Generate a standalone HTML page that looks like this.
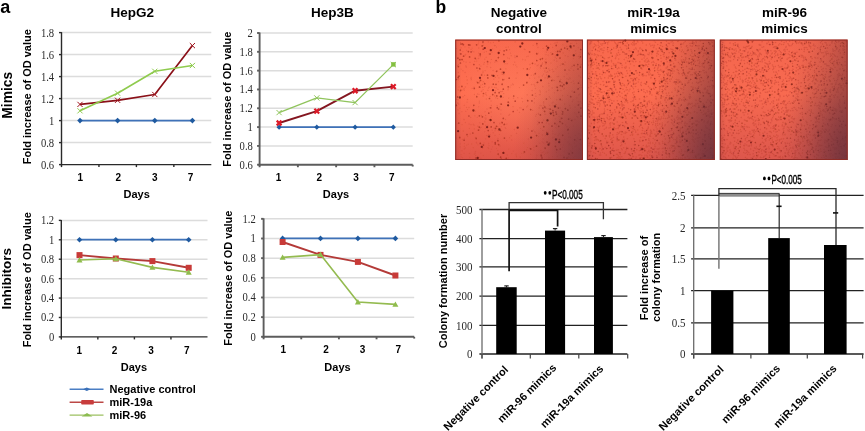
<!DOCTYPE html>
<html><head><meta charset="utf-8"><style>html,body{margin:0;padding:0;background:#fff;width:865px;height:431px;overflow:hidden;position:relative}</style></head>
<body>
<svg width="865" height="431" viewBox="0 0 865 431" style="position:absolute;left:0;top:0;will-change:transform">
<rect width="865" height="431" fill="#fff"/>
<text x="0.3" y="12.9" font-family="Liberation Sans" font-size="18" font-weight="bold" text-anchor="start" fill="#000">a</text>
<text x="435.6" y="12.9" font-family="Liberation Sans" font-size="17.5" font-weight="bold" text-anchor="start" fill="#000">b</text>
<text x="132.3" y="17.4" font-family="Liberation Sans" font-size="13.5" font-weight="bold" text-anchor="middle" fill="#000">HepG2</text>
<text x="332.4" y="17.4" font-family="Liberation Sans" font-size="13.5" font-weight="bold" text-anchor="middle" fill="#000">Hep3B</text>
<text x="11.6" y="95.3" font-family="Liberation Sans" font-size="13.8" font-weight="bold" text-anchor="middle" fill="#000" transform="rotate(-90 11.6 95.3)">Mimics</text>
<text x="10.9" y="278.7" font-family="Liberation Sans" font-size="13.5" font-weight="bold" text-anchor="middle" fill="#000" transform="rotate(-90 10.9 278.7)">Inhibitors</text>
<line x1="61.5" y1="32.599999999999994" x2="211.3" y2="32.599999999999994" stroke="#dcdcdc" stroke-width="1.5"/>
<line x1="61.5" y1="54.59999999999998" x2="211.3" y2="54.59999999999998" stroke="#dcdcdc" stroke-width="1.5"/>
<line x1="61.5" y1="76.6" x2="211.3" y2="76.6" stroke="#dcdcdc" stroke-width="1.5"/>
<line x1="61.5" y1="98.6" x2="211.3" y2="98.6" stroke="#dcdcdc" stroke-width="1.5"/>
<line x1="61.5" y1="120.6" x2="211.3" y2="120.6" stroke="#dcdcdc" stroke-width="1.5"/>
<line x1="61.5" y1="142.6" x2="211.3" y2="142.6" stroke="#dcdcdc" stroke-width="1.5"/>
<line x1="61.5" y1="32.099999999999994" x2="61.5" y2="165.29999999999998" stroke="#2a2a2a" stroke-width="1.4"/>
<line x1="60.8" y1="164.6" x2="211.3" y2="164.6" stroke="#2a2a2a" stroke-width="1.4"/>
<line x1="59.0" y1="32.599999999999994" x2="61.5" y2="32.599999999999994" stroke="#2a2a2a" stroke-width="1.4"/>
<text x="54.2" y="36.599999999999994" font-family="Liberation Serif" font-size="11.8" font-weight="normal" text-anchor="end" fill="#2a2a2a" transform="translate(54.2 0) scale(0.9 1) translate(-54.2 0)">1.8</text>
<line x1="59.0" y1="54.59999999999998" x2="61.5" y2="54.59999999999998" stroke="#2a2a2a" stroke-width="1.4"/>
<text x="54.2" y="58.59999999999998" font-family="Liberation Serif" font-size="11.8" font-weight="normal" text-anchor="end" fill="#2a2a2a" transform="translate(54.2 0) scale(0.9 1) translate(-54.2 0)">1.6</text>
<line x1="59.0" y1="76.6" x2="61.5" y2="76.6" stroke="#2a2a2a" stroke-width="1.4"/>
<text x="54.2" y="80.6" font-family="Liberation Serif" font-size="11.8" font-weight="normal" text-anchor="end" fill="#2a2a2a" transform="translate(54.2 0) scale(0.9 1) translate(-54.2 0)">1.4</text>
<line x1="59.0" y1="98.6" x2="61.5" y2="98.6" stroke="#2a2a2a" stroke-width="1.4"/>
<text x="54.2" y="102.6" font-family="Liberation Serif" font-size="11.8" font-weight="normal" text-anchor="end" fill="#2a2a2a" transform="translate(54.2 0) scale(0.9 1) translate(-54.2 0)">1.2</text>
<line x1="59.0" y1="120.6" x2="61.5" y2="120.6" stroke="#2a2a2a" stroke-width="1.4"/>
<text x="54.2" y="124.6" font-family="Liberation Serif" font-size="11.8" font-weight="normal" text-anchor="end" fill="#2a2a2a" transform="translate(54.2 0) scale(0.9 1) translate(-54.2 0)">1</text>
<line x1="59.0" y1="142.6" x2="61.5" y2="142.6" stroke="#2a2a2a" stroke-width="1.4"/>
<text x="54.2" y="146.6" font-family="Liberation Serif" font-size="11.8" font-weight="normal" text-anchor="end" fill="#2a2a2a" transform="translate(54.2 0) scale(0.9 1) translate(-54.2 0)">0.8</text>
<line x1="59.0" y1="164.6" x2="61.5" y2="164.6" stroke="#2a2a2a" stroke-width="1.4"/>
<text x="54.2" y="168.6" font-family="Liberation Serif" font-size="11.8" font-weight="normal" text-anchor="end" fill="#2a2a2a" transform="translate(54.2 0) scale(0.9 1) translate(-54.2 0)">0.6</text>
<line x1="61.5" y1="164.6" x2="61.5" y2="167.1" stroke="#2a2a2a" stroke-width="1.4"/>
<line x1="98.95" y1="164.6" x2="98.95" y2="167.1" stroke="#2a2a2a" stroke-width="1.4"/>
<line x1="136.4" y1="164.6" x2="136.4" y2="167.1" stroke="#2a2a2a" stroke-width="1.4"/>
<line x1="173.85000000000002" y1="164.6" x2="173.85000000000002" y2="167.1" stroke="#2a2a2a" stroke-width="1.4"/>
<text x="80.3" y="180.6" font-family="Liberation Sans" font-size="10" font-weight="bold" text-anchor="middle" fill="#000">1</text>
<text x="118.3" y="180.6" font-family="Liberation Sans" font-size="10" font-weight="bold" text-anchor="middle" fill="#000">2</text>
<text x="154.7" y="180.6" font-family="Liberation Sans" font-size="10" font-weight="bold" text-anchor="middle" fill="#000">3</text>
<text x="190.6" y="180.6" font-family="Liberation Sans" font-size="10" font-weight="bold" text-anchor="middle" fill="#000">7</text>
<text x="136.7" y="197.9" font-family="Liberation Sans" font-size="11" font-weight="bold" text-anchor="middle" fill="#000">Days</text>
<text x="30.6" y="96.7" font-family="Liberation Sans" font-size="11" font-weight="bold" text-anchor="middle" fill="#000" transform="rotate(-90 30.6 96.7)">Fold increase of OD value</text>
<polyline points="80.0,120.6 117.6,120.6 154.8,120.6 192.4,120.6" fill="none" stroke="#3f72b8" stroke-width="1.8" stroke-linejoin="round"/>
<path d="M80.0 117.8L82.8 120.6L80.0 123.39999999999999L77.2 120.6Z" fill="#1f5aa0"/>
<path d="M117.6 117.8L120.39999999999999 120.6L117.6 123.39999999999999L114.8 120.6Z" fill="#1f5aa0"/>
<path d="M154.8 117.8L157.60000000000002 120.6L154.8 123.39999999999999L152.0 120.6Z" fill="#1f5aa0"/>
<path d="M192.4 117.8L195.20000000000002 120.6L192.4 123.39999999999999L189.6 120.6Z" fill="#1f5aa0"/>
<polyline points="80.0,104.4 117.6,100.3 154.8,94.5 192.4,45.6" fill="none" stroke="#8a1018" stroke-width="1.7" stroke-linejoin="round"/>
<path d="M77.4 101.80000000000001L82.6 107.0M82.6 101.80000000000001L77.4 107.0" stroke="#a0121c" stroke-width="1.0" fill="none"/>
<path d="M115.0 97.7L120.19999999999999 102.89999999999999M120.19999999999999 97.7L115.0 102.89999999999999" stroke="#a0121c" stroke-width="1.0" fill="none"/>
<path d="M152.20000000000002 91.9L157.4 97.1M157.4 91.9L152.20000000000002 97.1" stroke="#a0121c" stroke-width="1.0" fill="none"/>
<path d="M189.8 43.0L195.0 48.2M195.0 43.0L189.8 48.2" stroke="#a0121c" stroke-width="1.0" fill="none"/>
<polyline points="80.0,110.8 117.6,93.2 154.8,71.3 192.4,65.5" fill="none" stroke="#8fcb4e" stroke-width="1.6" stroke-linejoin="round"/>
<path d="M77.4 108.2L82.6 113.39999999999999M82.6 108.2L77.4 113.39999999999999" stroke="#8fcb4e" stroke-width="1.0" fill="none"/>
<path d="M115.0 90.60000000000001L120.19999999999999 95.8M120.19999999999999 90.60000000000001L115.0 95.8" stroke="#8fcb4e" stroke-width="1.0" fill="none"/>
<path d="M152.20000000000002 68.7L157.4 73.89999999999999M157.4 68.7L152.20000000000002 73.89999999999999" stroke="#8fcb4e" stroke-width="1.0" fill="none"/>
<path d="M189.8 62.9L195.0 68.1M195.0 62.9L189.8 68.1" stroke="#8fcb4e" stroke-width="1.0" fill="none"/>
<line x1="259.6" y1="33.0" x2="412.7" y2="33.0" stroke="#dcdcdc" stroke-width="1.5"/>
<line x1="259.6" y1="51.81999999999999" x2="412.7" y2="51.81999999999999" stroke="#dcdcdc" stroke-width="1.5"/>
<line x1="259.6" y1="70.63999999999999" x2="412.7" y2="70.63999999999999" stroke="#dcdcdc" stroke-width="1.5"/>
<line x1="259.6" y1="89.46000000000001" x2="412.7" y2="89.46000000000001" stroke="#dcdcdc" stroke-width="1.5"/>
<line x1="259.6" y1="108.28" x2="412.7" y2="108.28" stroke="#dcdcdc" stroke-width="1.5"/>
<line x1="259.6" y1="127.1" x2="412.7" y2="127.1" stroke="#dcdcdc" stroke-width="1.5"/>
<line x1="259.6" y1="145.92" x2="412.7" y2="145.92" stroke="#dcdcdc" stroke-width="1.5"/>
<line x1="259.6" y1="32.5" x2="259.6" y2="165.68999999999997" stroke="#5c5c5c" stroke-width="1.9"/>
<line x1="258.65000000000003" y1="164.73999999999998" x2="412.7" y2="164.73999999999998" stroke="#5c5c5c" stroke-width="1.9"/>
<line x1="257.1" y1="33.0" x2="259.6" y2="33.0" stroke="#5c5c5c" stroke-width="1.9"/>
<text x="252.9" y="37.0" font-family="Liberation Serif" font-size="11.8" font-weight="normal" text-anchor="end" fill="#2a2a2a" transform="translate(252.9 0) scale(0.9 1) translate(-252.9 0)">2</text>
<line x1="257.1" y1="51.81999999999999" x2="259.6" y2="51.81999999999999" stroke="#5c5c5c" stroke-width="1.9"/>
<text x="252.9" y="55.81999999999999" font-family="Liberation Serif" font-size="11.8" font-weight="normal" text-anchor="end" fill="#2a2a2a" transform="translate(252.9 0) scale(0.9 1) translate(-252.9 0)">1.8</text>
<line x1="257.1" y1="70.63999999999999" x2="259.6" y2="70.63999999999999" stroke="#5c5c5c" stroke-width="1.9"/>
<text x="252.9" y="74.63999999999999" font-family="Liberation Serif" font-size="11.8" font-weight="normal" text-anchor="end" fill="#2a2a2a" transform="translate(252.9 0) scale(0.9 1) translate(-252.9 0)">1.6</text>
<line x1="257.1" y1="89.46000000000001" x2="259.6" y2="89.46000000000001" stroke="#5c5c5c" stroke-width="1.9"/>
<text x="252.9" y="93.46000000000001" font-family="Liberation Serif" font-size="11.8" font-weight="normal" text-anchor="end" fill="#2a2a2a" transform="translate(252.9 0) scale(0.9 1) translate(-252.9 0)">1.4</text>
<line x1="257.1" y1="108.28" x2="259.6" y2="108.28" stroke="#5c5c5c" stroke-width="1.9"/>
<text x="252.9" y="112.28" font-family="Liberation Serif" font-size="11.8" font-weight="normal" text-anchor="end" fill="#2a2a2a" transform="translate(252.9 0) scale(0.9 1) translate(-252.9 0)">1.2</text>
<line x1="257.1" y1="127.1" x2="259.6" y2="127.1" stroke="#5c5c5c" stroke-width="1.9"/>
<text x="252.9" y="131.1" font-family="Liberation Serif" font-size="11.8" font-weight="normal" text-anchor="end" fill="#2a2a2a" transform="translate(252.9 0) scale(0.9 1) translate(-252.9 0)">1</text>
<line x1="257.1" y1="145.92" x2="259.6" y2="145.92" stroke="#5c5c5c" stroke-width="1.9"/>
<text x="252.9" y="149.92" font-family="Liberation Serif" font-size="11.8" font-weight="normal" text-anchor="end" fill="#2a2a2a" transform="translate(252.9 0) scale(0.9 1) translate(-252.9 0)">0.8</text>
<line x1="257.1" y1="164.73999999999998" x2="259.6" y2="164.73999999999998" stroke="#5c5c5c" stroke-width="1.9"/>
<text x="252.9" y="168.73999999999998" font-family="Liberation Serif" font-size="11.8" font-weight="normal" text-anchor="end" fill="#2a2a2a" transform="translate(252.9 0) scale(0.9 1) translate(-252.9 0)">0.6</text>
<line x1="259.6" y1="164.73999999999998" x2="259.6" y2="167.23999999999998" stroke="#5c5c5c" stroke-width="1.9"/>
<line x1="297.875" y1="164.73999999999998" x2="297.875" y2="167.23999999999998" stroke="#5c5c5c" stroke-width="1.9"/>
<line x1="336.15" y1="164.73999999999998" x2="336.15" y2="167.23999999999998" stroke="#5c5c5c" stroke-width="1.9"/>
<line x1="374.425" y1="164.73999999999998" x2="374.425" y2="167.23999999999998" stroke="#5c5c5c" stroke-width="1.9"/>
<line x1="412.7" y1="164.73999999999998" x2="412.7" y2="166.54" stroke="#5c5c5c" stroke-width="1.9"/>
<text x="278.5" y="180.7" font-family="Liberation Sans" font-size="10" font-weight="bold" text-anchor="middle" fill="#000">1</text>
<text x="319.2" y="180.7" font-family="Liberation Sans" font-size="10" font-weight="bold" text-anchor="middle" fill="#000">2</text>
<text x="356.1" y="180.7" font-family="Liberation Sans" font-size="10" font-weight="bold" text-anchor="middle" fill="#000">3</text>
<text x="391.9" y="180.7" font-family="Liberation Sans" font-size="10" font-weight="bold" text-anchor="middle" fill="#000">7</text>
<text x="336.0" y="198.3" font-family="Liberation Sans" font-size="11" font-weight="bold" text-anchor="middle" fill="#000">Days</text>
<text x="230.6" y="99.1" font-family="Liberation Sans" font-size="11" font-weight="bold" text-anchor="middle" fill="#000" transform="rotate(-90 230.6 99.1)">Fold increase of OD value</text>
<polyline points="279.1,127.2 316.8,127.2 355.1,127.2 393.3,127.2" fill="none" stroke="#3f72b8" stroke-width="1.8" stroke-linejoin="round"/>
<path d="M279.1 124.60000000000001L281.70000000000005 127.2L279.1 129.8L276.5 127.2Z" fill="#1f5aa0"/>
<path d="M316.8 124.60000000000001L319.40000000000003 127.2L316.8 129.8L314.2 127.2Z" fill="#1f5aa0"/>
<path d="M355.1 124.60000000000001L357.70000000000005 127.2L355.1 129.8L352.5 127.2Z" fill="#1f5aa0"/>
<path d="M393.3 124.60000000000001L395.90000000000003 127.2L393.3 129.8L390.7 127.2Z" fill="#1f5aa0"/>
<polyline points="279.1,123.0 316.8,111.1 355.1,90.7 393.3,86.6" fill="none" stroke="#841620" stroke-width="1.9" stroke-linejoin="round"/>
<path d="M276.70000000000005 120.6L281.5 125.4M281.5 120.6L276.70000000000005 125.4" stroke="#dc1a28" stroke-width="2.2" fill="none"/>
<path d="M314.40000000000003 108.69999999999999L319.2 113.5M319.2 108.69999999999999L314.40000000000003 113.5" stroke="#dc1a28" stroke-width="2.2" fill="none"/>
<path d="M352.70000000000005 88.3L357.5 93.10000000000001M357.5 88.3L352.70000000000005 93.10000000000001" stroke="#dc1a28" stroke-width="2.2" fill="none"/>
<path d="M390.90000000000003 84.19999999999999L395.7 89.0M395.7 84.19999999999999L390.90000000000003 89.0" stroke="#dc1a28" stroke-width="2.2" fill="none"/>
<polyline points="279.1,112.6 316.8,97.9 355.1,102.6 393.3,64.6" fill="none" stroke="#90c45c" stroke-width="1.3" stroke-linejoin="round"/>
<path d="M276.5 110.0L281.70000000000005 115.19999999999999M281.70000000000005 110.0L276.5 115.19999999999999" stroke="#90c45c" stroke-width="1.0" fill="none"/>
<path d="M314.2 95.30000000000001L319.40000000000003 100.5M319.40000000000003 95.30000000000001L314.2 100.5" stroke="#90c45c" stroke-width="1.0" fill="none"/>
<path d="M352.5 100.0L357.70000000000005 105.19999999999999M357.70000000000005 100.0L352.5 105.19999999999999" stroke="#90c45c" stroke-width="1.0" fill="none"/>
<path d="M390.7 61.99999999999999L395.90000000000003 67.19999999999999M395.90000000000003 61.99999999999999L390.7 67.19999999999999" stroke="#90c45c" stroke-width="1.0" fill="none"/>
<rect x="391.2" y="62.2" width="4.4" height="4.4" fill="#84c040"/>
<line x1="61.3" y1="220.38" x2="207.5" y2="220.38" stroke="#dcdcdc" stroke-width="1.5"/>
<line x1="61.3" y1="239.79999999999998" x2="207.5" y2="239.79999999999998" stroke="#dcdcdc" stroke-width="1.5"/>
<line x1="61.3" y1="259.21999999999997" x2="207.5" y2="259.21999999999997" stroke="#dcdcdc" stroke-width="1.5"/>
<line x1="61.3" y1="278.64" x2="207.5" y2="278.64" stroke="#dcdcdc" stroke-width="1.5"/>
<line x1="61.3" y1="298.05999999999995" x2="207.5" y2="298.05999999999995" stroke="#dcdcdc" stroke-width="1.5"/>
<line x1="61.3" y1="317.47999999999996" x2="207.5" y2="317.47999999999996" stroke="#dcdcdc" stroke-width="1.5"/>
<line x1="61.3" y1="219.88" x2="61.3" y2="337.59999999999997" stroke="#2a2a2a" stroke-width="1.4"/>
<line x1="60.599999999999994" y1="336.9" x2="207.5" y2="336.9" stroke="#2a2a2a" stroke-width="1.4"/>
<line x1="58.8" y1="220.38" x2="61.3" y2="220.38" stroke="#2a2a2a" stroke-width="1.4"/>
<text x="54.2" y="224.38" font-family="Liberation Serif" font-size="11.8" font-weight="normal" text-anchor="end" fill="#2a2a2a" transform="translate(54.2 0) scale(0.9 1) translate(-54.2 0)">1.2</text>
<line x1="58.8" y1="239.79999999999998" x2="61.3" y2="239.79999999999998" stroke="#2a2a2a" stroke-width="1.4"/>
<text x="54.2" y="243.79999999999998" font-family="Liberation Serif" font-size="11.8" font-weight="normal" text-anchor="end" fill="#2a2a2a" transform="translate(54.2 0) scale(0.9 1) translate(-54.2 0)">1</text>
<line x1="58.8" y1="259.21999999999997" x2="61.3" y2="259.21999999999997" stroke="#2a2a2a" stroke-width="1.4"/>
<text x="54.2" y="263.21999999999997" font-family="Liberation Serif" font-size="11.8" font-weight="normal" text-anchor="end" fill="#2a2a2a" transform="translate(54.2 0) scale(0.9 1) translate(-54.2 0)">0.8</text>
<line x1="58.8" y1="278.64" x2="61.3" y2="278.64" stroke="#2a2a2a" stroke-width="1.4"/>
<text x="54.2" y="282.64" font-family="Liberation Serif" font-size="11.8" font-weight="normal" text-anchor="end" fill="#2a2a2a" transform="translate(54.2 0) scale(0.9 1) translate(-54.2 0)">0.6</text>
<line x1="58.8" y1="298.05999999999995" x2="61.3" y2="298.05999999999995" stroke="#2a2a2a" stroke-width="1.4"/>
<text x="54.2" y="302.05999999999995" font-family="Liberation Serif" font-size="11.8" font-weight="normal" text-anchor="end" fill="#2a2a2a" transform="translate(54.2 0) scale(0.9 1) translate(-54.2 0)">0.4</text>
<line x1="58.8" y1="317.47999999999996" x2="61.3" y2="317.47999999999996" stroke="#2a2a2a" stroke-width="1.4"/>
<text x="54.2" y="321.47999999999996" font-family="Liberation Serif" font-size="11.8" font-weight="normal" text-anchor="end" fill="#2a2a2a" transform="translate(54.2 0) scale(0.9 1) translate(-54.2 0)">0.2</text>
<line x1="58.8" y1="336.9" x2="61.3" y2="336.9" stroke="#2a2a2a" stroke-width="1.4"/>
<text x="54.2" y="340.9" font-family="Liberation Serif" font-size="11.8" font-weight="normal" text-anchor="end" fill="#2a2a2a" transform="translate(54.2 0) scale(0.9 1) translate(-54.2 0)">0</text>
<line x1="61.3" y1="336.9" x2="61.3" y2="339.4" stroke="#2a2a2a" stroke-width="1.4"/>
<line x1="97.85" y1="336.9" x2="97.85" y2="339.4" stroke="#2a2a2a" stroke-width="1.4"/>
<line x1="134.39999999999998" y1="336.9" x2="134.39999999999998" y2="339.4" stroke="#2a2a2a" stroke-width="1.4"/>
<line x1="170.95" y1="336.9" x2="170.95" y2="339.4" stroke="#2a2a2a" stroke-width="1.4"/>
<text x="79.4" y="354.0" font-family="Liberation Sans" font-size="10" font-weight="bold" text-anchor="middle" fill="#000">1</text>
<text x="114.5" y="354.0" font-family="Liberation Sans" font-size="10" font-weight="bold" text-anchor="middle" fill="#000">2</text>
<text x="151.0" y="354.0" font-family="Liberation Sans" font-size="10" font-weight="bold" text-anchor="middle" fill="#000">3</text>
<text x="186.8" y="354.0" font-family="Liberation Sans" font-size="10" font-weight="bold" text-anchor="middle" fill="#000">7</text>
<text x="133.9" y="371.4" font-family="Liberation Sans" font-size="11" font-weight="bold" text-anchor="middle" fill="#000">Days</text>
<text x="30.6" y="279.8" font-family="Liberation Sans" font-size="11" font-weight="bold" text-anchor="middle" fill="#000" transform="rotate(-90 30.6 279.8)">Fold increase of OD value</text>
<polyline points="79.5,239.7 115.8,239.7 152.4,239.7 188.7,239.7" fill="none" stroke="#3f72b8" stroke-width="1.8" stroke-linejoin="round"/>
<path d="M79.5 236.89999999999998L82.3 239.7L79.5 242.5L76.7 239.7Z" fill="#1f5aa0"/>
<path d="M115.8 236.89999999999998L118.6 239.7L115.8 242.5L113.0 239.7Z" fill="#1f5aa0"/>
<path d="M152.4 236.89999999999998L155.20000000000002 239.7L152.4 242.5L149.6 239.7Z" fill="#1f5aa0"/>
<path d="M188.7 236.89999999999998L191.5 239.7L188.7 242.5L185.89999999999998 239.7Z" fill="#1f5aa0"/>
<polyline points="79.5,255.1 115.8,258.5 152.4,261.1 188.7,267.8" fill="none" stroke="#b43a38" stroke-width="1.9" stroke-linejoin="round"/>
<rect x="76.5" y="252.1" width="6.0" height="6.0" fill="#c83a38"/>
<rect x="112.8" y="255.5" width="6.0" height="6.0" fill="#c83a38"/>
<rect x="149.4" y="258.1" width="6.0" height="6.0" fill="#c83a38"/>
<rect x="185.7" y="264.8" width="6.0" height="6.0" fill="#c83a38"/>
<polyline points="79.5,260.0 115.8,258.8 152.4,267.4 188.7,272.3" fill="none" stroke="#94bb50" stroke-width="1.6" stroke-linejoin="round"/>
<path d="M79.5 257.0L82.5 262.4L76.5 262.4Z" fill="#8fbc4c"/>
<path d="M115.8 255.8L118.8 261.2L112.8 261.2Z" fill="#8fbc4c"/>
<path d="M152.4 264.4L155.4 269.79999999999995L149.4 269.79999999999995Z" fill="#8fbc4c"/>
<path d="M188.7 269.3L191.7 274.7L185.7 274.7Z" fill="#8fbc4c"/>
<line x1="263.6" y1="218.84000000000003" x2="414.2" y2="218.84000000000003" stroke="#dcdcdc" stroke-width="1.5"/>
<line x1="263.6" y1="238.5" x2="414.2" y2="238.5" stroke="#dcdcdc" stroke-width="1.5"/>
<line x1="263.6" y1="258.16" x2="414.2" y2="258.16" stroke="#dcdcdc" stroke-width="1.5"/>
<line x1="263.6" y1="277.82" x2="414.2" y2="277.82" stroke="#dcdcdc" stroke-width="1.5"/>
<line x1="263.6" y1="297.48" x2="414.2" y2="297.48" stroke="#dcdcdc" stroke-width="1.5"/>
<line x1="263.6" y1="317.14" x2="414.2" y2="317.14" stroke="#dcdcdc" stroke-width="1.5"/>
<line x1="263.6" y1="218.34000000000003" x2="263.6" y2="337.75" stroke="#5c5c5c" stroke-width="1.9"/>
<line x1="262.65000000000003" y1="336.8" x2="414.2" y2="336.8" stroke="#5c5c5c" stroke-width="1.9"/>
<line x1="261.1" y1="218.84000000000003" x2="263.6" y2="218.84000000000003" stroke="#5c5c5c" stroke-width="1.9"/>
<text x="255.8" y="222.84000000000003" font-family="Liberation Serif" font-size="11.8" font-weight="normal" text-anchor="end" fill="#2a2a2a" transform="translate(255.8 0) scale(0.9 1) translate(-255.8 0)">1.2</text>
<line x1="261.1" y1="238.5" x2="263.6" y2="238.5" stroke="#5c5c5c" stroke-width="1.9"/>
<text x="255.8" y="242.5" font-family="Liberation Serif" font-size="11.8" font-weight="normal" text-anchor="end" fill="#2a2a2a" transform="translate(255.8 0) scale(0.9 1) translate(-255.8 0)">1</text>
<line x1="261.1" y1="258.16" x2="263.6" y2="258.16" stroke="#5c5c5c" stroke-width="1.9"/>
<text x="255.8" y="262.16" font-family="Liberation Serif" font-size="11.8" font-weight="normal" text-anchor="end" fill="#2a2a2a" transform="translate(255.8 0) scale(0.9 1) translate(-255.8 0)">0.8</text>
<line x1="261.1" y1="277.82" x2="263.6" y2="277.82" stroke="#5c5c5c" stroke-width="1.9"/>
<text x="255.8" y="281.82" font-family="Liberation Serif" font-size="11.8" font-weight="normal" text-anchor="end" fill="#2a2a2a" transform="translate(255.8 0) scale(0.9 1) translate(-255.8 0)">0.6</text>
<line x1="261.1" y1="297.48" x2="263.6" y2="297.48" stroke="#5c5c5c" stroke-width="1.9"/>
<text x="255.8" y="301.48" font-family="Liberation Serif" font-size="11.8" font-weight="normal" text-anchor="end" fill="#2a2a2a" transform="translate(255.8 0) scale(0.9 1) translate(-255.8 0)">0.4</text>
<line x1="261.1" y1="317.14" x2="263.6" y2="317.14" stroke="#5c5c5c" stroke-width="1.9"/>
<text x="255.8" y="321.14" font-family="Liberation Serif" font-size="11.8" font-weight="normal" text-anchor="end" fill="#2a2a2a" transform="translate(255.8 0) scale(0.9 1) translate(-255.8 0)">0.2</text>
<line x1="261.1" y1="336.8" x2="263.6" y2="336.8" stroke="#5c5c5c" stroke-width="1.9"/>
<text x="255.8" y="340.8" font-family="Liberation Serif" font-size="11.8" font-weight="normal" text-anchor="end" fill="#2a2a2a" transform="translate(255.8 0) scale(0.9 1) translate(-255.8 0)">0</text>
<line x1="263.6" y1="336.8" x2="263.6" y2="339.3" stroke="#5c5c5c" stroke-width="1.9"/>
<line x1="301.25" y1="336.8" x2="301.25" y2="339.3" stroke="#5c5c5c" stroke-width="1.9"/>
<line x1="338.9" y1="336.8" x2="338.9" y2="339.3" stroke="#5c5c5c" stroke-width="1.9"/>
<line x1="376.55" y1="336.8" x2="376.55" y2="339.3" stroke="#5c5c5c" stroke-width="1.9"/>
<line x1="414.2" y1="336.8" x2="414.2" y2="338.6" stroke="#5c5c5c" stroke-width="1.9"/>
<text x="283.2" y="353.4" font-family="Liberation Sans" font-size="10" font-weight="bold" text-anchor="middle" fill="#000">1</text>
<text x="326.0" y="353.4" font-family="Liberation Sans" font-size="10" font-weight="bold" text-anchor="middle" fill="#000">2</text>
<text x="362.5" y="353.4" font-family="Liberation Sans" font-size="10" font-weight="bold" text-anchor="middle" fill="#000">3</text>
<text x="398.4" y="353.4" font-family="Liberation Sans" font-size="10" font-weight="bold" text-anchor="middle" fill="#000">7</text>
<text x="337.5" y="371.1" font-family="Liberation Sans" font-size="11" font-weight="bold" text-anchor="middle" fill="#000">Days</text>
<text x="231.7" y="278.1" font-family="Liberation Sans" font-size="11" font-weight="bold" text-anchor="middle" fill="#000" transform="rotate(-90 231.7 278.1)">Fold increase of OD value</text>
<polyline points="282.6,238.4 320.5,238.4 357.9,238.4 395.4,238.4" fill="none" stroke="#3f72b8" stroke-width="1.8" stroke-linejoin="round"/>
<path d="M282.6 235.6L285.40000000000003 238.4L282.6 241.20000000000002L279.8 238.4Z" fill="#1f5aa0"/>
<path d="M320.5 235.6L323.3 238.4L320.5 241.20000000000002L317.7 238.4Z" fill="#1f5aa0"/>
<path d="M357.9 235.6L360.7 238.4L357.9 241.20000000000002L355.09999999999997 238.4Z" fill="#1f5aa0"/>
<path d="M395.4 235.6L398.2 238.4L395.4 241.20000000000002L392.59999999999997 238.4Z" fill="#1f5aa0"/>
<polyline points="282.6,242.0 320.5,254.9 357.9,261.9 395.4,275.5" fill="none" stroke="#b43a38" stroke-width="1.9" stroke-linejoin="round"/>
<rect x="279.6" y="239.0" width="6.0" height="6.0" fill="#c83a38"/>
<rect x="317.5" y="251.9" width="6.0" height="6.0" fill="#c83a38"/>
<rect x="354.9" y="258.9" width="6.0" height="6.0" fill="#c83a38"/>
<rect x="392.4" y="272.5" width="6.0" height="6.0" fill="#c83a38"/>
<polyline points="282.6,257.4 320.5,254.6 357.9,302.0 395.4,304.4" fill="none" stroke="#94bb50" stroke-width="1.6" stroke-linejoin="round"/>
<path d="M282.6 254.39999999999998L285.6 259.79999999999995L279.6 259.79999999999995Z" fill="#8fbc4c"/>
<path d="M320.5 251.6L323.5 257.0L317.5 257.0Z" fill="#8fbc4c"/>
<path d="M357.9 299.0L360.9 304.4L354.9 304.4Z" fill="#8fbc4c"/>
<path d="M395.4 301.4L398.4 306.79999999999995L392.4 306.79999999999995Z" fill="#8fbc4c"/>
<line x1="69.6" y1="389.3" x2="103.5" y2="389.3" stroke="#4a7ec4" stroke-width="1.4"/>
<path d="M83 389.3L86.8 387.5L90.6 389.3L86.8 391.1Z" fill="#3a70b8"/>
<line x1="69.6" y1="402.3" x2="103.5" y2="402.3" stroke="#bc4846" stroke-width="1.4"/>
<rect x="81.2" y="400.1" width="12.6" height="4.4" rx="0.8" fill="#c83c3c"/>
<line x1="69.6" y1="415.1" x2="103.5" y2="415.1" stroke="#9cc060" stroke-width="1.4"/>
<path d="M81.6 416.5L87 412.90000000000003L92.4 416.5Z" fill="#8cbc50"/>
<text x="109.5" y="393.2" font-family="Liberation Sans" font-size="11" font-weight="bold" text-anchor="start" fill="#000">Negative control</text>
<text x="109.5" y="406.2" font-family="Liberation Sans" font-size="11" font-weight="bold" text-anchor="start" fill="#000">miR-19a</text>
<text x="109.5" y="419.0" font-family="Liberation Sans" font-size="11" font-weight="bold" text-anchor="start" fill="#000">miR-96</text>
<text x="518.9" y="17.0" font-family="Liberation Sans" font-size="13.5" font-weight="bold" text-anchor="middle" fill="#000">Negative</text>
<text x="518.9" y="32.7" font-family="Liberation Sans" font-size="13.5" font-weight="bold" text-anchor="middle" fill="#000">control</text>
<text x="653.6" y="17.0" font-family="Liberation Sans" font-size="13.5" font-weight="bold" text-anchor="middle" fill="#000">miR-19a</text>
<text x="653.6" y="32.7" font-family="Liberation Sans" font-size="13.5" font-weight="bold" text-anchor="middle" fill="#000">mimics</text>
<text x="784.5" y="17.0" font-family="Liberation Sans" font-size="13.5" font-weight="bold" text-anchor="middle" fill="#000">miR-96</text>
<text x="784.5" y="32.7" font-family="Liberation Sans" font-size="13.5" font-weight="bold" text-anchor="middle" fill="#000">mimics</text>
<defs>
<linearGradient id="b1" x1="0" y1="0" x2="0" y2="1"><stop offset="0" stop-color="rgb(248,104,77)"/><stop offset="0.45" stop-color="rgb(254,110,80)"/><stop offset="1" stop-color="rgb(222,84,72)"/></linearGradient>
<linearGradient id="b2" x1="0" y1="0" x2="0" y2="1"><stop offset="0" stop-color="rgb(248,104,77)"/><stop offset="0.45" stop-color="rgb(252,108,79)"/><stop offset="1" stop-color="rgb(222,86,75)"/></linearGradient>
<linearGradient id="b3" x1="0" y1="0" x2="0" y2="1"><stop offset="0" stop-color="rgb(244,102,78)"/><stop offset="0.45" stop-color="rgb(248,106,80)"/><stop offset="1" stop-color="rgb(220,86,76)"/></linearGradient>
<radialGradient id="c" cx="0.5" cy="0.45" r="0.45"><stop offset="0" stop-color="#ff8a68" stop-opacity="0.3"/><stop offset="1" stop-color="#ff9070" stop-opacity="0"/></radialGradient>
<linearGradient id="h1" x1="0" y1="0" x2="1" y2="0"><stop offset="0" stop-color="rgb(100,40,50)" stop-opacity="0.15"/><stop offset="0.05" stop-color="rgb(100,40,50)" stop-opacity="0"/><stop offset="0.6" stop-color="rgb(100,40,50)" stop-opacity="0"/><stop offset="0.75" stop-color="rgb(100,40,50)" stop-opacity="0.04"/><stop offset="0.88" stop-color="rgb(100,40,50)" stop-opacity="0.11"/><stop offset="1" stop-color="rgb(100,40,50)" stop-opacity="0.2"/></linearGradient>
<linearGradient id="h2" x1="0" y1="0" x2="1" y2="0"><stop offset="0" stop-color="rgb(100,40,50)" stop-opacity="0.15"/><stop offset="0.05" stop-color="rgb(100,40,50)" stop-opacity="0"/><stop offset="0.55" stop-color="rgb(100,40,50)" stop-opacity="0"/><stop offset="0.7" stop-color="rgb(100,40,50)" stop-opacity="0.06"/><stop offset="0.85" stop-color="rgb(100,40,50)" stop-opacity="0.17"/><stop offset="1" stop-color="rgb(100,40,50)" stop-opacity="0.36"/></linearGradient>
<radialGradient id="v1" cx="1" cy="1" r="1" gradientTransform="translate(1 1) scale(0.55 1.1) translate(-1 -1)"><stop offset="0" stop-color="rgb(100,48,60)" stop-opacity="0.66"/><stop offset="0.2" stop-color="rgb(100,48,60)" stop-opacity="0.55"/><stop offset="0.4" stop-color="rgb(100,48,60)" stop-opacity="0.4"/><stop offset="0.6" stop-color="rgb(100,48,60)" stop-opacity="0.22"/><stop offset="0.8" stop-color="rgb(100,48,60)" stop-opacity="0.08"/><stop offset="1" stop-color="rgb(100,48,60)" stop-opacity="0"/></radialGradient>
<radialGradient id="v2" cx="1" cy="1" r="1" gradientTransform="translate(1 1) scale(0.55 1.1) translate(-1 -1)"><stop offset="0" stop-color="rgb(100,48,60)" stop-opacity="0.78"/><stop offset="0.2" stop-color="rgb(100,48,60)" stop-opacity="0.64"/><stop offset="0.4" stop-color="rgb(100,48,60)" stop-opacity="0.46"/><stop offset="0.6" stop-color="rgb(100,48,60)" stop-opacity="0.26"/><stop offset="0.8" stop-color="rgb(100,48,60)" stop-opacity="0.1"/><stop offset="1" stop-color="rgb(100,48,60)" stop-opacity="0"/></radialGradient>
<filter id="bl" x="-5%" y="-5%" width="110%" height="110%"><feGaussianBlur stdDeviation="0.35"/></filter>
</defs>
<rect x="455.2" y="39.6" width="127.8" height="120.4" fill="url(#b1)"/>
<rect x="455.2" y="39.6" width="127.8" height="120.4" fill="url(#c)"/>
<g filter="url(#bl)">
<path d="M479.4 101.2h0M556.0 51.7h0M467.6 136.5h0M461.5 156.9h0M538.5 113.5h0M458.1 103.2h0M480.1 69.2h0M539.5 94.7h0M581.7 158.5h0M545.2 77.9h0M492.6 48.9h0M506.6 140.8h0M576.7 140.9h0M482.6 148.4h0M579.5 87.7h0M535.4 132.8h0M467.2 80.0h0M551.6 54.6h0M468.9 47.7h0M478.6 106.8h0M480.2 127.3h0M537.2 54.4h0M483.0 72.5h0M557.3 76.6h0M482.7 87.3h0M483.0 71.2h0M497.6 75.7h0M467.5 109.6h0M531.8 84.6h0M576.9 97.9h0M565.2 62.2h0M570.5 137.4h0M480.1 128.1h0M480.9 153.1h0M532.1 90.5h0M461.1 154.6h0M544.8 71.0h0M531.2 75.3h0M546.8 48.7h0M491.5 149.2h0M458.3 72.5h0M463.8 61.5h0M528.2 56.2h0M568.3 156.7h0M543.2 109.8h0M460.6 42.7h0M544.4 154.6h0M496.3 158.9h0M548.9 123.9h0M571.3 82.3h0M569.5 143.7h0M555.6 142.8h0M534.8 85.9h0M581.2 144.8h0M505.1 127.6h0M511.6 139.9h0M550.6 44.1h0M488.4 41.9h0M541.5 64.6h0M570.1 118.7h0M568.4 79.3h0M481.2 91.6h0M571.2 144.8h0M529.6 78.1h0M545.7 153.1h0M477.5 94.0h0M483.1 89.6h0M579.7 94.2h0M460.2 143.9h0M545.3 108.2h0M555.8 42.9h0M486.1 57.3h0M535.4 93.5h0M542.3 64.2h0M478.7 41.9h0M546.0 61.8h0M499.7 123.2h0M533.5 130.1h0M555.8 147.9h0M573.5 126.1h0M556.4 152.4h0M538.1 64.9h0M559.1 116.6h0M483.0 147.2h0M579.2 104.2h0M496.5 148.3h0M500.0 50.4h0M459.8 136.4h0M556.8 61.1h0M555.3 57.2h0M542.9 152.6h0M575.6 50.8h0M562.5 147.2h0M563.2 155.3h0M519.5 112.3h0M578.2 101.7h0M557.0 107.2h0M543.1 48.4h0M490.1 96.6h0M516.1 78.2h0M533.9 150.2h0M554.2 43.3h0M484.8 121.9h0M500.9 114.0h0M548.1 55.1h0M487.7 64.0h0M511.1 85.1h0M522.8 59.5h0M535.6 116.2h0M563.3 113.0h0M485.5 128.3h0M569.8 78.0h0M572.3 66.4h0M567.9 56.5h0M547.6 71.3h0M560.9 90.5h0M472.1 88.3h0M458.4 64.4h0M570.9 155.3h0M542.5 63.0h0M469.6 45.0h0M521.0 107.9h0M479.4 64.7h0M580.8 150.3h0M464.0 153.3h0M552.4 79.3h0M457.9 123.6h0M479.0 94.3h0M507.2 63.7h0M557.1 124.0h0M535.4 88.5h0M488.7 148.5h0M554.1 137.1h0M569.0 144.8h0M552.7 131.2h0M547.1 49.0h0M515.2 41.9h0M536.5 114.5h0M575.0 119.5h0M539.2 108.0h0M505.2 159.0h0M459.1 113.5h0M488.5 88.1h0M480.8 85.1h0M487.8 147.8h0M581.4 116.1h0M465.8 111.3h0M461.9 150.7h0M509.1 103.0h0M502.2 74.4h0M493.4 42.3h0M461.6 59.1h0M462.5 157.7h0M465.4 147.8h0M516.3 155.8h0M513.5 64.7h0M540.2 94.5h0M548.6 68.8h0M568.5 133.5h0M501.4 72.7h0M551.0 63.1h0M579.4 149.0h0M461.2 47.8h0M509.7 114.4h0M524.3 49.2h0M541.3 105.8h0M503.1 97.3h0M499.4 128.8h0M465.6 54.8h0M534.7 131.6h0M497.1 105.6h0M572.0 91.2h0M468.4 144.2h0M466.6 107.4h0M542.4 76.0h0M465.8 65.9h0M466.5 76.6h0M543.5 74.1h0M501.2 126.6h0M471.0 124.6h0M571.8 151.9h0M511.3 135.7h0M496.2 87.9h0M568.8 70.0h0M502.2 83.6h0M505.0 63.7h0M556.5 104.6h0M567.0 73.9h0M577.8 117.7h0M464.3 105.3h0M466.8 50.3h0M569.3 50.6h0M474.3 128.9h0M487.1 66.7h0M498.7 155.2h0M545.3 148.9h0M560.1 119.5h0M557.6 139.3h0M576.7 116.4h0M545.5 135.6h0M580.9 85.1h0M481.9 90.9h0M578.2 47.6h0M470.6 117.3h0M478.8 48.0h0M529.7 148.3h0M469.9 62.4h0M485.8 125.5h0M484.4 62.5h0M477.9 130.3h0M489.0 145.7h0M516.9 66.8h0M575.4 135.5h0M522.6 101.7h0M580.8 118.5h0M457.6 96.6h0M556.4 125.1h0M476.0 59.2h0M488.8 143.5h0M536.3 158.2h0M456.4 137.9h0M559.6 50.4h0M546.3 52.1h0M564.1 76.5h0M508.7 149.1h0M560.2 65.3h0M495.4 77.4h0M494.7 95.9h0M501.5 122.0h0M560.6 118.0h0M503.6 124.7h0M527.2 94.8h0M580.9 135.3h0M533.7 75.0h0M505.5 119.5h0M481.4 127.2h0M575.1 107.2h0M497.9 138.5h0M473.9 51.8h0M545.3 61.9h0M561.5 110.8h0M484.7 59.2h0M552.7 137.8h0M497.9 89.4h0M555.5 118.8h0M458.5 79.8h0M538.1 53.2h0M569.8 105.5h0M580.3 101.7h0M561.3 63.9h0M535.1 64.0h0M487.0 108.9h0M497.6 150.6h0M473.3 147.6h0M526.7 106.9h0M570.6 158.1h0M492.5 146.8h0M528.4 139.0h0M525.1 49.6h0M478.9 157.5h0M539.0 77.0h0M549.0 85.8h0M557.3 42.5h0M515.1 57.5h0M489.4 107.9h0M536.9 45.1h0M474.4 154.2h0M542.9 130.4h0M563.8 89.0h0M496.5 47.1h0M569.4 127.3h0M550.8 76.7h0M465.0 55.3h0M519.4 87.6h0M543.6 102.9h0M494.7 87.4h0M464.8 148.5h0M539.9 143.2h0M557.5 66.9h0M527.5 147.6h0M555.9 55.3h0M575.8 40.7h0M493.8 79.1h0M568.8 137.1h0M501.0 109.9h0M460.1 147.0h0M515.7 65.1h0M572.3 146.8h0M561.6 82.5h0M477.8 144.8h0M481.6 115.5h0M566.9 46.5h0M547.5 77.7h0M565.6 125.0h0M543.8 151.6h0M466.1 67.0h0M545.6 63.9h0M485.8 119.3h0M530.4 67.7h0M572.8 119.6h0M461.9 111.6h0M487.8 135.7h0M492.1 130.1h0M491.3 105.5h0M569.0 157.5h0M514.3 129.5h0M573.1 99.8h0M539.0 133.3h0M521.7 153.3h0M554.3 60.2h0M485.8 92.7h0M555.1 134.3h0M546.1 108.4h0M478.8 58.6h0M489.3 135.1h0M570.3 108.0h0M555.8 68.8h0M495.3 45.6h0M534.3 102.8h0M477.8 70.8h0M543.1 139.0h0M463.9 89.2h0M483.4 155.5h0M474.4 94.5h0M461.1 69.1h0M474.0 87.1h0M509.6 49.7h0M581.5 131.0h0M485.1 70.6h0M486.6 95.2h0M533.1 45.3h0M537.9 47.5h0M543.6 142.9h0M567.7 95.4h0M562.3 85.7h0M483.3 81.7h0M525.3 60.0h0M483.2 96.0h0M564.7 64.8h0M465.4 122.5h0M490.7 42.8h0M489.2 87.1h0M546.2 72.4h0M475.5 151.5h0M552.5 126.3h0M458.8 78.7h0M466.7 145.1h0M553.2 102.1h0M505.8 68.8h0M475.2 111.1h0M495.5 90.8h0M473.3 124.3h0M547.5 119.5h0M482.0 73.8h0M484.6 75.2h0M483.3 45.4h0M578.9 75.9h0M571.8 66.2h0M485.7 115.5h0M510.0 87.1h0M504.4 79.5h0M491.4 59.4h0M486.4 51.6h0M509.3 58.5h0M544.4 106.1h0M459.1 86.9h0M464.1 88.5h0M497.2 70.6h0M499.9 146.2h0M489.1 119.7h0M553.3 114.9h0M507.9 89.8h0M560.6 144.8h0M570.6 45.1h0M579.1 58.3h0M484.9 121.1h0M456.3 105.0h0M486.3 99.0h0M560.8 155.3h0M499.8 145.5h0M546.3 122.9h0M577.5 138.2h0M534.4 98.7h0M502.7 74.4h0M523.4 68.7h0M497.1 61.6h0M472.1 48.1h0M469.1 124.0h0M476.7 143.2h0M462.9 70.7h0M556.4 87.0h0M487.9 125.3h0M498.2 130.5h0M560.4 107.8h0M545.1 114.4h0M557.0 55.4h0M540.4 68.0h0M457.9 109.9h0M578.3 56.4h0M508.9 115.4h0M573.6 157.7h0M545.9 54.6h0M471.3 79.7h0M495.1 135.4h0M491.9 87.0h0M552.5 156.7h0M543.5 105.2h0M474.7 61.3h0M573.6 70.4h0M471.3 78.9h0M490.7 67.5h0M502.2 71.3h0M464.3 146.3h0M466.1 62.2h0M581.6 64.5h0M506.0 47.4h0M538.8 114.4h0M574.3 143.0h0M478.3 43.8h0M471.1 49.4h0M551.0 77.3h0M457.5 65.5h0M457.6 103.0h0M555.9 127.7h0M557.2 138.6h0M580.2 52.5h0M506.8 124.1h0M570.6 43.4h0M484.8 86.6h0M538.8 136.6h0M536.5 82.5h0M570.1 78.7h0M498.3 128.4h0M549.7 105.3h0M478.5 53.1h0M500.3 91.6h0M523.8 153.4h0M567.0 78.6h0M469.8 157.5h0M577.3 66.6h0M545.0 61.7h0M541.4 152.8h0M479.3 82.9h0M474.8 115.8h0M537.2 65.7h0M567.9 142.0h0M519.7 107.8h0M561.6 122.3h0M539.9 90.3h0M485.1 111.7h0M573.4 58.6h0M581.1 128.0h0M548.9 157.7h0M565.3 55.6h0M464.4 143.6h0M487.7 136.2h0M523.7 143.1h0M491.4 116.8h0M486.6 135.3h0M553.2 105.6h0M556.4 58.6h0M468.8 45.0h0M565.0 139.3h0M479.1 86.6h0M533.8 147.4h0M580.5 65.1h0M566.5 126.8h0M540.3 91.6h0M498.9 77.9h0M491.2 112.0h0M478.9 55.8h0M514.9 55.9h0M574.6 112.8h0M480.9 158.4h0M548.8 83.3h0M507.6 57.9h0M509.6 137.7h0M499.8 123.9h0M492.2 141.8h0M513.4 151.1h0M549.7 111.8h0M464.3 90.2h0M511.7 153.6h0M543.6 120.2h0M487.9 90.4h0M559.4 141.3h0M467.3 83.6h0M547.2 119.8h0M569.2 153.0h0M535.8 96.2h0M581.1 87.4h0M464.6 95.3h0M482.5 84.4h0M505.8 128.4h0M477.2 117.4h0M549.5 70.6h0M548.1 132.5h0M575.0 146.7h0M500.4 104.0h0M470.2 134.0h0M472.5 51.1h0M493.2 132.7h0M508.3 47.0h0M513.0 106.7h0M563.2 53.0h0M475.7 155.5h0M577.4 89.5h0M475.5 137.5h0M545.8 59.1h0M459.8 53.7h0M577.7 116.7h0M462.0 89.9h0M489.0 53.8h0M497.6 98.5h0M567.7 152.7h0M493.9 128.1h0M502.5 91.4h0M501.3 91.6h0M462.4 139.5h0M484.2 52.3h0M495.8 97.9h0M550.5 98.3h0M507.4 155.0h0M530.8 154.4h0M531.4 84.3h0M532.8 110.4h0M462.9 51.6h0M490.2 134.8h0M564.4 88.2h0M560.8 79.5h0M559.3 133.9h0M463.3 131.0h0M550.9 109.3h0M548.9 90.1h0M579.9 149.1h0M554.5 92.8h0M503.7 93.6h0M471.0 78.5h0M465.2 54.3h0M540.0 105.5h0M471.1 77.3h0M526.7 149.8h0M471.7 144.0h0M460.1 91.7h0M541.0 150.5h0M542.9 86.5h0M469.4 128.5h0M529.9 64.5h0M476.8 82.0h0M562.2 83.0h0M516.6 156.7h0M543.9 68.3h0M548.1 108.7h0M464.3 138.3h0M546.3 91.8h0M513.5 98.2h0M550.9 52.7h0M562.8 44.8h0M527.7 105.9h0M475.3 153.2h0M557.6 52.2h0M483.7 64.2h0M546.6 75.0h0M547.6 71.9h0M458.8 104.2h0M493.1 70.5h0M517.2 72.9h0M491.1 100.9h0M476.3 142.4h0M553.7 71.4h0M574.0 83.5h0M485.6 94.2h0M547.9 152.3h0M527.4 81.9h0M575.7 53.7h0M469.0 107.5h0M580.6 77.2h0M463.9 119.5h0M459.9 108.2h0M542.4 141.9h0M479.4 103.0h0M508.7 98.1h0M526.8 56.6h0M579.0 153.1h0M564.2 151.3h0M467.1 102.1h0M460.2 53.8h0M576.6 43.4h0M560.6 122.1h0M456.3 48.6h0M578.9 139.3h0M498.4 81.7h0M553.1 71.7h0M478.3 58.4h0M516.5 133.4h0M486.2 118.1h0M479.4 68.1h0M497.7 126.6h0M555.6 104.5h0M552.2 69.5h0M508.3 157.8h0M554.6 80.6h0M503.9 74.6h0M549.5 96.9h0M457.9 99.7h0M464.4 148.9h0M482.1 144.6h0M573.4 81.1h0M474.0 125.2h0M480.4 56.7h0M567.2 126.6h0M513.3 84.7h0M490.5 151.8h0M479.5 81.7h0M494.8 62.2h0M552.1 103.0h0M466.5 67.0h0M495.1 130.7h0M578.6 95.0h0M562.6 95.7h0M575.0 156.4h0M552.1 88.0h0M476.7 61.1h0M482.8 42.9h0M556.7 99.7h0M514.7 62.2h0M494.5 45.5h0M534.0 84.3h0M534.7 78.1h0M567.4 109.4h0M571.1 68.2h0M563.5 145.0h0M520.2 157.2h0M477.7 126.2h0M491.9 52.1h0M499.9 106.8h0M572.3 101.5h0M456.4 99.4h0M467.5 99.5h0M536.9 155.5h0M485.7 138.8h0M488.2 147.5h0M517.8 97.7h0M562.0 100.2h0M480.9 66.1h0M557.3 156.5h0M542.4 135.0h0M558.1 135.5h0M558.7 76.5h0M571.9 43.3h0M499.4 134.3h0M570.8 151.0h0M464.3 119.6h0M579.8 143.8h0M479.6 122.8h0M580.1 114.3h0M547.6 47.5h0M552.9 133.6h0M459.1 59.7h0M485.0 118.0h0M543.6 101.7h0M490.5 62.8h0M542.5 152.2h0M572.8 148.5h0M576.0 113.9h0M553.6 80.1h0M521.9 98.4h0M564.7 104.0h0M549.9 70.2h0M529.3 69.2h0M465.0 46.8h0M508.3 88.8h0M515.8 154.2h0M569.7 70.3h0M581.7 103.1h0M552.6 47.3h0M547.6 78.4h0M537.7 124.2h0M510.6 53.2h0M576.3 145.8h0M465.1 72.5h0M511.3 55.7h0M528.3 128.7h0M537.9 121.3h0M462.0 124.7h0M463.1 96.7h0M465.4 86.9h0M469.5 153.5h0M517.4 110.2h0M579.9 54.8h0M484.0 143.1h0M488.6 134.3h0M512.6 83.9h0M579.0 133.6h0M540.6 128.3h0M547.3 153.1h0M540.3 92.1h0M484.6 131.8h0M579.5 81.1h0M458.3 89.9h0" stroke="#c84430" stroke-opacity="0.35" stroke-width="1.3" stroke-linecap="round" fill="none"/>
<path d="M488.8 113.2h0M506.3 158.3h0M571.0 47.7h0M559.5 139.7h0M550.1 109.1h0M544.9 107.1h0M580.4 56.8h0M490.7 107.8h0M568.6 119.1h0M557.6 90.3h0M532.4 95.1h0M580.9 108.0h0M500.6 130.5h0M494.0 122.5h0M560.4 85.6h0M501.3 104.2h0M503.3 118.4h0M495.3 143.9h0M487.6 61.7h0M467.0 134.6h0M489.5 98.5h0M459.7 137.6h0M482.8 123.9h0M498.6 144.6h0M558.4 108.1h0M580.4 67.1h0M499.1 92.7h0M560.3 149.0h0M477.8 82.7h0M483.4 145.1h0M484.7 83.7h0M546.6 46.2h0M464.1 140.2h0M529.6 51.9h0M500.6 157.2h0M564.7 48.0h0M458.8 123.1h0M490.5 119.6h0M496.8 95.9h0M526.8 82.7h0M487.5 75.2h0M458.2 77.4h0M490.0 54.0h0M515.2 101.2h0M567.8 129.9h0M539.2 122.6h0M508.2 86.8h0M555.4 146.3h0M459.0 76.2h0M556.4 114.1h0M480.3 143.4h0M542.2 122.5h0M567.0 158.0h0M561.3 49.4h0M578.4 105.0h0M495.2 142.7h0M580.8 49.5h0M457.9 58.2h0M536.7 53.7h0M574.4 92.2h0M530.7 109.6h0M483.5 93.5h0M498.6 109.0h0M458.4 66.6h0M483.2 49.2h0M498.2 154.0h0M468.9 116.0h0M558.7 126.3h0M463.4 44.7h0M473.9 64.5h0M476.8 96.7h0M496.6 71.3h0M479.4 115.8h0M573.9 45.8h0M504.4 138.1h0M546.1 62.5h0M578.0 69.0h0M571.6 120.5h0M479.7 68.7h0M562.5 123.5h0M540.4 114.9h0M546.4 99.0h0M462.3 43.9h0M502.9 79.7h0M530.7 148.9h0M527.3 68.9h0M547.4 49.8h0M460.4 63.0h0M562.4 114.0h0M551.9 126.1h0M560.0 58.1h0M460.9 44.0h0M504.1 50.8h0M562.7 111.8h0M460.9 53.9h0M480.2 53.9h0M536.8 60.5h0M523.6 85.1h0M527.7 100.7h0M480.5 80.4h0M567.9 110.2h0M524.4 151.9h0M504.4 124.4h0M545.1 148.1h0M492.0 75.3h0M554.9 123.4h0M479.6 87.2h0M552.5 53.9h0M549.4 143.1h0M561.8 118.3h0M474.3 88.4h0M472.8 133.0h0M535.3 73.7h0M532.5 63.3h0M564.0 157.4h0M502.2 122.7h0M563.0 64.1h0M498.9 40.7h0M456.4 79.5h0M580.9 116.1h0M546.3 68.1h0M547.1 142.0h0M509.2 78.2h0M495.5 128.4h0M542.4 58.6h0M577.8 64.6h0M476.6 44.8h0M479.3 127.1h0M541.1 155.2h0M468.6 44.8h0M559.9 121.6h0M563.9 84.7h0M536.9 43.6h0M459.9 59.7h0M559.9 81.4h0M541.4 156.0h0M553.6 115.5h0M457.6 97.0h0M531.9 100.9h0M463.6 56.2h0M542.0 157.9h0M492.7 94.6h0M557.3 87.3h0M501.2 159.0h0M506.5 50.0h0M475.2 58.3h0M531.9 131.0h0M493.3 84.2h0M483.0 41.9h0M517.0 56.3h0M568.2 129.3h0M541.1 65.9h0M498.4 57.6h0M469.9 45.0h0M482.2 45.9h0M482.4 116.8h0M572.4 152.9h0M496.5 126.3h0M556.2 45.4h0M473.8 105.3h0M565.0 70.1h0M496.1 60.5h0M551.7 80.5h0M543.8 126.7h0M471.1 51.9h0M560.2 99.4h0M502.1 84.3h0M578.8 112.3h0M544.6 111.4h0M553.1 112.6h0M578.2 88.8h0M503.3 89.2h0M537.6 82.3h0M562.7 135.3h0M562.3 86.3h0M487.8 77.9h0M556.7 149.7h0M503.8 54.5h0M536.5 146.2h0M488.2 130.5h0M566.6 82.4h0M481.6 75.0h0M491.2 126.9h0M536.6 135.6h0M480.3 54.8h0M555.9 112.0h0M513.2 111.5h0M460.6 90.4h0M578.5 83.2h0M565.4 108.6h0M557.8 51.3h0M468.4 51.6h0M475.9 158.0h0M569.1 153.9h0M540.4 59.3h0M542.9 108.1h0M560.0 51.5h0M462.1 59.6h0M495.1 92.6h0M497.9 140.7h0M456.3 105.4h0M567.4 48.8h0M552.9 110.6h0M508.2 102.2h0M469.6 56.9h0M523.2 109.5h0M580.4 139.5h0M476.2 138.4h0M478.6 130.1h0M574.1 65.3h0M476.9 68.0h0M570.7 96.7h0M500.5 69.2h0M546.8 132.5h0M513.7 96.0h0M497.3 107.7h0M461.9 86.4h0M460.3 50.0h0M574.7 139.8h0M496.0 84.3h0" stroke="#9a2416" stroke-opacity="0.6" stroke-width="1.7" stroke-linecap="round" fill="none"/>
<path d="M473.4 110.5h0M504.2 61.5h0M458.1 131.2h0M547.3 134.2h0M480.0 77.9h0M548.9 76.5h0M500.9 96.5h0M489.1 136.6h0M477.7 158.0h0M557.4 55.0h0M481.8 146.9h0M520.3 46.6h0M493.0 90.2h0M531.1 137.6h0M487.1 127.2h0M484.8 48.1h0M508.1 105.3h0M527.3 75.0h0M541.0 80.3h0M503.7 72.6h0M493.5 75.9h0M459.9 97.5h0M566.8 83.3h0M522.3 43.5h0M555.0 106.5h0M499.4 129.5h0M555.9 139.5h0M547.5 120.4h0M559.2 142.2h0M550.8 113.6h0M570.5 46.5h0M503.4 152.9h0M517.7 127.7h0M567.3 41.4h0M548.5 144.7h0M490.8 50.2h0M548.2 47.8h0M498.7 53.0h0M573.8 55.3h0M490.6 120.2h0" stroke="#6a140c" stroke-opacity="0.8" stroke-width="2.3" stroke-linecap="round" fill="none"/>
</g>
<rect x="455.2" y="39.6" width="127.8" height="120.4" fill="url(#h1)"/>
<rect x="455.2" y="39.6" width="127.8" height="120.4" fill="url(#v1)"/>
<rect x="455.7" y="40.1" width="126.8" height="119.4" fill="none" stroke="#8e2c26" stroke-width="1"/>
<rect x="586.9" y="39.6" width="127.9" height="120.4" fill="url(#b2)"/>
<g filter="url(#bl)">
<path d="M629.9 89.2h0M647.4 92.1h0M662.9 151.9h0M705.2 148.0h0M692.3 67.6h0M618.7 95.0h0M668.9 112.4h0M631.9 158.0h0M627.2 42.9h0M599.3 65.4h0M679.9 140.1h0M593.2 68.7h0M618.4 133.7h0M700.9 71.8h0M600.8 155.1h0M710.2 125.4h0M647.4 129.0h0M684.5 100.9h0M622.1 102.8h0M671.3 79.0h0M668.4 58.0h0M710.1 65.6h0M616.4 154.3h0M707.5 150.1h0M693.8 141.1h0M691.3 107.7h0M597.3 127.2h0M693.1 139.8h0M593.4 47.9h0M679.9 98.4h0M700.4 157.9h0M644.2 120.6h0M671.6 122.7h0M634.2 116.3h0M596.4 147.2h0M679.0 135.6h0M646.1 64.9h0M644.7 121.2h0M656.9 53.5h0M588.4 87.7h0M618.7 67.4h0M615.8 89.8h0M675.4 148.7h0M673.1 43.1h0M697.1 112.7h0M680.0 113.3h0M632.5 80.8h0M596.9 119.2h0M594.7 121.2h0M702.6 119.7h0M664.2 136.3h0M708.7 136.8h0M712.5 95.0h0M589.7 113.3h0M668.3 142.8h0M665.0 83.6h0M588.5 138.9h0M666.5 157.3h0M662.6 141.6h0M685.1 157.9h0M646.1 146.8h0M637.9 41.9h0M628.9 82.2h0M712.8 87.4h0M622.5 122.4h0M600.1 76.8h0M637.6 55.3h0M663.2 90.7h0M688.9 80.8h0M710.9 63.8h0M654.7 67.4h0M589.7 76.3h0M700.6 75.1h0M649.4 102.6h0M621.4 103.9h0M596.1 82.0h0M623.7 137.1h0M684.8 123.6h0M662.8 143.2h0M681.2 47.1h0M604.3 129.2h0M693.6 157.7h0M685.5 59.3h0M659.3 114.5h0M664.0 56.5h0M709.8 101.0h0M621.7 156.7h0M636.3 48.9h0M672.1 71.3h0M615.4 76.4h0M664.3 78.5h0M671.6 147.8h0M712.6 145.9h0M703.9 70.6h0M691.6 51.2h0M661.1 49.5h0M600.4 152.9h0M603.9 125.5h0M654.3 40.7h0M687.8 47.8h0M699.5 137.5h0M650.4 93.4h0M591.4 123.5h0M592.8 102.9h0M704.4 120.9h0M602.6 126.0h0M676.2 79.6h0M685.0 109.1h0M640.0 102.9h0M622.6 74.6h0M699.8 82.0h0M685.0 84.0h0M611.9 40.8h0M709.2 129.6h0M711.5 110.3h0M595.8 59.9h0M594.1 113.1h0M666.2 153.7h0M625.2 68.2h0M615.7 58.0h0M591.5 99.1h0M640.8 84.2h0M707.7 77.7h0M692.0 103.6h0M600.8 44.1h0M664.6 144.1h0M594.2 123.7h0M617.2 122.0h0M692.8 126.7h0M618.7 59.1h0M709.7 149.0h0M704.2 104.7h0M594.4 84.3h0M702.5 48.5h0M625.1 45.6h0M698.7 82.5h0M598.3 82.8h0M613.6 91.9h0M665.5 118.5h0M600.0 103.9h0M595.0 92.9h0M689.6 71.7h0M691.5 69.5h0M637.4 134.4h0M588.4 106.2h0M655.5 125.2h0M707.2 122.8h0M616.0 64.2h0M648.6 73.9h0M657.6 51.2h0M675.3 89.9h0M594.2 54.9h0M705.6 141.1h0M698.8 86.7h0M711.8 60.7h0M679.3 152.1h0M614.2 41.1h0M603.8 50.5h0M689.1 112.4h0M647.9 54.2h0M668.8 56.8h0M604.7 110.9h0M668.9 135.4h0M692.0 56.8h0M626.2 57.6h0M649.7 44.0h0M697.1 121.3h0M689.7 98.4h0M702.7 139.5h0M692.3 136.0h0M615.1 81.5h0M595.0 131.1h0M647.5 157.4h0M624.4 91.6h0M697.0 155.3h0M683.2 145.1h0M704.2 72.8h0M665.6 48.1h0M673.1 153.4h0M651.6 57.9h0M659.6 48.3h0M646.0 50.1h0M640.5 137.4h0M681.0 141.7h0M645.5 92.8h0M594.8 134.0h0M659.6 88.9h0M606.2 94.9h0M595.8 54.8h0M597.9 90.9h0M605.2 138.6h0M664.7 143.2h0M657.6 59.5h0M622.7 140.0h0M661.5 117.1h0M667.5 46.3h0M613.0 91.7h0M694.2 152.3h0M662.3 71.3h0M593.8 106.8h0M639.4 150.8h0M613.9 64.8h0M589.9 44.0h0M689.6 143.8h0M607.3 42.4h0M660.5 69.8h0M665.3 148.6h0M682.0 73.7h0M664.3 74.9h0M683.5 71.2h0M697.4 120.9h0M700.2 81.5h0M708.0 109.5h0M620.3 117.2h0M627.0 54.0h0M592.9 112.9h0M618.4 52.4h0M685.7 57.4h0M682.9 72.9h0M633.7 151.0h0M692.2 139.4h0M711.3 112.1h0M705.6 114.3h0M661.2 78.9h0M635.6 108.1h0M619.0 116.6h0M696.7 125.9h0M616.2 43.9h0M634.1 92.0h0M694.5 105.4h0M653.1 112.3h0M657.5 120.9h0M658.1 106.0h0M617.6 55.2h0M643.3 145.6h0M707.1 75.3h0M660.3 102.0h0M645.1 61.7h0M687.3 50.7h0M616.6 73.6h0M613.5 63.5h0M597.9 102.6h0M609.6 116.7h0M663.5 114.6h0M648.4 113.1h0M625.1 95.5h0M674.6 66.1h0M680.2 109.9h0M710.6 113.6h0M657.0 131.6h0M624.2 84.7h0M642.3 127.6h0M678.4 62.5h0M708.0 156.9h0M650.3 158.5h0M666.1 86.1h0M598.8 42.7h0M662.3 125.7h0M665.4 133.3h0M642.8 128.5h0M663.9 115.7h0M656.9 119.6h0M658.4 51.3h0M672.9 123.9h0M641.8 155.4h0M648.5 60.3h0M652.3 83.0h0M608.7 145.8h0M610.2 124.9h0M609.3 101.8h0M713.4 51.1h0M696.0 41.3h0M711.0 148.2h0M644.4 116.1h0M645.8 60.0h0M632.7 92.8h0M697.4 54.1h0M655.8 96.4h0M657.5 134.4h0M663.4 78.9h0M708.1 111.5h0M622.0 105.4h0M697.1 46.1h0M669.5 98.3h0M624.2 59.5h0M617.1 92.4h0M641.0 111.8h0M621.9 114.0h0M647.5 134.8h0M689.2 68.7h0M710.9 105.3h0M630.1 70.7h0M677.6 92.3h0M674.0 70.9h0M696.2 71.9h0M697.4 92.5h0M638.4 109.0h0M653.7 105.5h0M658.5 153.1h0M681.4 51.5h0M712.3 42.4h0M594.5 137.5h0M622.6 44.1h0M610.1 99.2h0M694.1 42.9h0M608.7 42.1h0M594.6 77.9h0M649.7 155.3h0M669.5 141.8h0M662.3 148.4h0M672.7 69.0h0M634.8 97.4h0M601.7 150.0h0M648.7 64.3h0M649.8 135.9h0M622.3 110.2h0M599.4 69.2h0M611.5 100.4h0M674.5 67.5h0M674.6 110.0h0M682.4 158.5h0M629.9 158.6h0M645.2 100.9h0M610.3 50.7h0M669.2 52.8h0M592.3 50.6h0M656.2 63.8h0M621.1 131.4h0M644.1 58.0h0M673.4 158.4h0M666.2 93.3h0M655.7 123.8h0M693.4 133.6h0M619.2 133.0h0M601.0 55.8h0M651.8 62.5h0M658.6 74.2h0M706.7 91.9h0M690.6 152.5h0M644.9 131.6h0M649.9 87.9h0M603.5 118.6h0M703.9 122.0h0M627.8 102.8h0M632.8 86.9h0M685.2 41.4h0M648.5 101.2h0M606.4 127.3h0M619.8 88.4h0M619.1 111.3h0M642.1 121.6h0M641.4 133.4h0M657.3 53.0h0M649.9 70.6h0M625.4 152.9h0M648.3 128.1h0M607.5 115.1h0M602.8 66.8h0M603.9 43.5h0M702.1 154.8h0M634.2 42.1h0M680.3 119.1h0M593.6 131.4h0M596.4 68.2h0M685.9 131.4h0M617.4 100.8h0M688.7 112.1h0M654.0 62.5h0M596.5 62.8h0M653.9 111.2h0M645.9 115.9h0M658.9 117.0h0M639.6 140.3h0M654.8 144.8h0M712.0 138.6h0M685.1 122.3h0M657.4 69.9h0M600.8 118.9h0M619.1 113.1h0M657.1 112.5h0M641.9 69.0h0M626.1 123.1h0M699.4 78.3h0M627.4 93.6h0M641.9 115.5h0M683.1 131.5h0M689.8 126.5h0M710.2 93.7h0M644.1 117.7h0M627.4 138.8h0M640.5 106.5h0M653.3 83.7h0M589.2 73.5h0M647.8 153.2h0M605.2 147.5h0M710.4 134.3h0M623.1 42.9h0M698.8 48.7h0M625.5 151.8h0M672.7 138.1h0M692.9 61.7h0M651.4 51.8h0M635.6 99.3h0M690.8 74.8h0M671.8 57.3h0M620.2 47.5h0M661.0 110.0h0M677.7 90.3h0M705.8 126.1h0M659.5 144.0h0M610.5 75.2h0M657.3 111.6h0M708.2 121.0h0M593.8 152.4h0M646.7 64.9h0M683.9 115.0h0M695.5 105.9h0M620.1 96.3h0M646.6 82.3h0M661.0 58.3h0M619.8 54.6h0M591.3 102.8h0M680.8 88.3h0M701.5 112.6h0M670.8 74.5h0M701.1 81.8h0M694.3 69.5h0M707.8 121.5h0M610.4 127.2h0M607.5 86.2h0M635.6 80.2h0M633.5 59.6h0M638.3 51.7h0M688.1 82.5h0M677.6 91.3h0M710.6 144.7h0M676.7 140.2h0M702.9 150.8h0M639.9 110.8h0M596.6 83.7h0M629.2 114.3h0M588.8 129.9h0M597.3 90.7h0M649.0 140.3h0M667.5 58.1h0M671.8 68.4h0M665.6 89.6h0M708.2 93.8h0M622.1 77.3h0M708.5 81.9h0M618.5 104.0h0M672.3 152.0h0M597.9 79.6h0M678.9 99.2h0M674.9 120.5h0M599.5 46.6h0M610.2 76.6h0M610.8 74.6h0M602.3 43.7h0M653.9 130.3h0M608.0 51.8h0M679.6 50.0h0M605.5 98.7h0M625.3 133.5h0M651.6 102.6h0M635.0 43.9h0M691.2 86.7h0M692.0 53.1h0M642.3 104.5h0M607.4 49.4h0M705.7 151.7h0M713.8 105.1h0M680.2 111.8h0M648.0 60.9h0M668.7 93.1h0M673.3 45.6h0M624.9 54.0h0M684.0 97.3h0M623.9 133.1h0M653.4 75.0h0M637.3 40.8h0M595.5 45.0h0M709.0 144.6h0M656.4 152.0h0M655.8 121.3h0M601.1 92.3h0M664.8 89.0h0M670.1 81.2h0M670.3 65.2h0M649.5 91.3h0M654.1 47.1h0M618.4 125.3h0M608.8 97.0h0M713.1 112.8h0M680.3 131.9h0M709.8 86.5h0M637.7 130.0h0M591.1 96.1h0M622.1 106.5h0M680.1 142.6h0M651.7 122.5h0M597.9 118.7h0M704.9 113.5h0M649.6 101.1h0M639.7 61.8h0M612.7 134.7h0M652.8 45.2h0M665.3 138.9h0M669.9 61.9h0M707.7 62.1h0M651.9 95.1h0M608.8 72.2h0M611.4 60.4h0M593.1 117.0h0M671.8 70.4h0M707.7 90.7h0M645.4 150.4h0M669.6 95.8h0M681.9 128.3h0M626.7 48.9h0M680.1 129.2h0M663.5 54.5h0M681.6 61.4h0M688.3 114.2h0M668.1 49.5h0M633.8 127.4h0M601.9 45.2h0M639.9 141.6h0M667.2 67.8h0M598.2 139.7h0M694.0 123.6h0M613.9 129.5h0M589.1 61.0h0M628.2 153.9h0M592.4 59.6h0M680.3 130.9h0M621.6 49.6h0M695.4 155.5h0M702.3 107.6h0M598.6 128.2h0M669.7 139.0h0M683.5 100.1h0M710.9 95.3h0M644.1 116.0h0M687.1 110.2h0M706.4 72.8h0M700.8 144.6h0M631.5 44.0h0M663.6 114.0h0M708.7 106.7h0M679.1 130.5h0M609.1 119.6h0M643.1 66.2h0M622.5 83.5h0M680.4 106.0h0M628.3 47.1h0M687.0 129.9h0M693.2 133.7h0M595.9 73.9h0M646.1 75.8h0M691.6 64.8h0M589.7 94.0h0M594.3 44.0h0M664.2 112.2h0M656.2 48.9h0M658.5 102.5h0M626.2 67.0h0M607.5 97.8h0M634.1 109.9h0M672.8 73.3h0M664.3 71.2h0M681.8 64.8h0M662.7 127.8h0M688.5 103.4h0M702.7 157.4h0M687.7 83.1h0M621.5 114.8h0M604.1 61.5h0M599.8 117.7h0M636.7 149.7h0M689.4 103.5h0M630.8 78.5h0M594.5 53.7h0M697.7 75.9h0M588.9 156.6h0M635.8 132.3h0M644.9 155.3h0M598.0 96.6h0M669.4 43.5h0M703.4 80.7h0M673.2 49.9h0M597.8 50.8h0M687.2 152.1h0M703.2 103.4h0M599.4 132.6h0M651.7 133.2h0M667.7 107.6h0M609.4 57.5h0M598.2 91.8h0M624.3 153.6h0M594.0 130.5h0M603.0 52.8h0M704.1 66.6h0M662.8 109.8h0M638.2 82.0h0M605.6 123.0h0M634.7 111.7h0M691.0 49.6h0M641.2 82.4h0M705.3 114.1h0M612.7 94.9h0M589.7 101.5h0M596.7 56.9h0M651.9 104.3h0M614.7 109.7h0M627.1 123.8h0M594.5 140.2h0M644.4 61.1h0M624.5 114.9h0M599.9 148.6h0M615.7 89.2h0M597.0 94.6h0M709.0 62.7h0M610.3 105.3h0M668.5 57.5h0M615.5 112.1h0M618.0 43.9h0M675.3 143.4h0M689.4 141.9h0M614.7 77.3h0M663.4 113.5h0M666.7 106.1h0M617.3 68.8h0M598.6 47.4h0M661.1 50.8h0M698.3 154.1h0M606.3 155.0h0M666.5 41.3h0M636.2 83.3h0M626.8 48.6h0M618.5 42.6h0M644.3 97.6h0M617.1 150.0h0M699.4 99.8h0M688.8 82.4h0M682.7 132.7h0M632.2 128.2h0M632.1 61.1h0M640.7 54.1h0M678.3 70.4h0M650.5 136.4h0M663.2 148.2h0M679.3 122.6h0M681.2 122.4h0M703.6 111.0h0M671.1 105.7h0M655.1 152.0h0M625.7 63.1h0M651.0 77.5h0M677.8 115.9h0M588.2 65.3h0M665.9 87.5h0M673.5 96.2h0M601.9 122.2h0M710.5 51.5h0M665.5 113.2h0M665.0 100.4h0M651.7 157.7h0M697.7 92.1h0M690.3 119.6h0M689.3 158.8h0M596.9 65.7h0M617.1 137.5h0M704.2 67.4h0M649.0 145.9h0M678.9 110.1h0M700.4 150.0h0M599.4 155.0h0M624.6 113.3h0M682.7 75.4h0M626.5 147.8h0M687.5 156.2h0M599.7 114.8h0M681.0 153.8h0M679.2 73.8h0M600.6 61.1h0M620.5 108.2h0M628.5 58.2h0M598.8 121.8h0M690.5 55.2h0M652.6 156.7h0M633.3 103.9h0M690.0 43.4h0M697.8 132.3h0M680.6 81.2h0M649.8 152.0h0M595.6 50.3h0M668.5 153.4h0M606.7 62.9h0M645.8 134.0h0M658.9 118.7h0M594.4 64.2h0M661.6 126.4h0M599.4 51.3h0M627.5 89.7h0M629.9 60.8h0M597.2 117.0h0M708.0 115.7h0M703.6 55.6h0M665.4 83.8h0M694.5 111.5h0M665.2 148.9h0M708.2 56.9h0M643.0 50.7h0M658.4 67.1h0M675.8 82.7h0M588.9 145.8h0M603.8 72.4h0M653.4 47.4h0M685.1 125.4h0M602.7 114.1h0M604.1 103.4h0M599.7 74.0h0M644.6 105.1h0M670.2 150.4h0M630.1 82.0h0M614.2 127.9h0M634.1 65.7h0M612.1 90.4h0M693.2 92.5h0M690.3 96.4h0M661.1 70.8h0M639.4 126.4h0M598.5 94.4h0M619.7 75.0h0M630.5 64.1h0M660.5 45.4h0M617.9 71.8h0M610.7 139.4h0M674.3 145.7h0M604.6 62.8h0M627.4 100.8h0M692.9 139.4h0M696.2 42.7h0M591.3 80.5h0M641.9 41.3h0M632.0 55.7h0M697.9 65.5h0M628.0 61.3h0M694.7 53.9h0M643.2 66.7h0M618.9 158.4h0M677.8 127.8h0M632.6 156.3h0M709.4 115.9h0M616.5 46.4h0M656.5 98.2h0M696.5 158.8h0M690.7 69.3h0M711.9 113.1h0M592.7 65.2h0M708.6 134.8h0M681.1 119.0h0M590.8 151.5h0M625.4 132.0h0M655.8 98.4h0M654.2 149.4h0M693.0 87.3h0M695.2 61.3h0M631.9 78.6h0M593.8 88.1h0M588.2 155.3h0M690.8 97.3h0M595.7 71.7h0M685.2 75.4h0M599.8 91.2h0M660.7 55.6h0M635.4 106.5h0M681.7 88.8h0M712.7 70.9h0M682.3 50.0h0M703.1 105.1h0M609.7 137.1h0M699.1 56.0h0M699.0 154.1h0M632.7 134.2h0M678.6 107.7h0M636.7 77.7h0M690.6 133.3h0M706.9 48.7h0M659.7 124.2h0M615.3 43.1h0M700.4 133.0h0M677.7 80.0h0M643.1 136.8h0M599.7 126.2h0M676.9 95.4h0M707.9 115.4h0M699.2 63.6h0M639.3 75.2h0M650.6 129.9h0M712.7 148.4h0M695.3 156.1h0M680.3 127.9h0M599.3 88.8h0M649.5 53.1h0M701.4 84.7h0M618.5 50.3h0M655.5 80.5h0M707.3 115.7h0M642.0 59.3h0M594.1 122.1h0M665.0 99.2h0M651.6 89.2h0M702.0 47.2h0M617.0 134.6h0M627.6 79.9h0M642.3 75.6h0M683.5 51.9h0M657.8 125.2h0M631.1 127.0h0M632.6 114.3h0M600.8 78.2h0M658.5 113.0h0M646.3 45.0h0M655.8 143.1h0M622.1 65.3h0M666.1 68.1h0M600.7 49.4h0M666.6 145.0h0M685.0 110.4h0M698.0 141.0h0M621.7 85.7h0M710.5 152.2h0M668.6 115.2h0M631.0 51.3h0M629.4 67.9h0M667.5 118.2h0M667.2 148.5h0M588.0 65.0h0M600.5 84.4h0M702.9 96.0h0M688.5 62.3h0M632.5 135.2h0M624.8 127.1h0M663.4 118.2h0M591.6 83.2h0M711.9 85.0h0M623.0 158.9h0M662.2 123.0h0M648.8 114.4h0M637.0 73.1h0M624.6 67.5h0M675.3 51.0h0M602.6 100.6h0M712.5 133.1h0M672.1 128.4h0M613.9 101.0h0M590.1 102.2h0M592.0 54.3h0M603.1 81.5h0M647.7 66.4h0M597.7 55.0h0M707.5 157.2h0M702.9 56.8h0M613.3 144.7h0M589.9 58.2h0M669.6 154.8h0M704.4 140.6h0M627.9 127.5h0M705.8 147.1h0M710.1 130.8h0M687.0 123.7h0M641.1 108.4h0M704.9 108.3h0M591.1 93.6h0M697.6 124.5h0M648.6 151.2h0M683.1 67.2h0M676.2 143.6h0M588.7 151.5h0M642.3 141.0h0M589.5 78.5h0M626.1 66.4h0M670.7 134.8h0M669.7 148.3h0M602.2 74.6h0M638.4 134.5h0M680.8 157.9h0M697.8 103.4h0M681.0 137.5h0M653.4 121.0h0M695.4 139.1h0M607.7 44.1h0M676.9 137.2h0M611.8 141.3h0M683.2 60.1h0M607.4 118.5h0M666.3 59.5h0M702.2 66.1h0M692.8 152.6h0M603.1 123.6h0M657.1 149.0h0M643.8 89.4h0M617.3 140.8h0M628.2 148.5h0M592.2 145.8h0M590.3 126.3h0M707.5 78.7h0M662.3 89.6h0M596.1 139.9h0M650.1 135.5h0M592.4 59.9h0M616.9 137.3h0M590.8 43.2h0M635.5 86.4h0M694.5 142.3h0M618.1 128.5h0M632.9 131.3h0M670.9 48.9h0M647.0 90.7h0M645.7 106.4h0M674.9 88.2h0M653.3 138.6h0M673.6 63.5h0M605.3 72.8h0M707.7 86.4h0M698.6 154.8h0M675.9 84.3h0M681.7 100.0h0M707.8 100.0h0M668.0 121.7h0M667.2 61.7h0M659.5 91.3h0M673.5 132.3h0M613.9 84.4h0M620.2 154.4h0M649.6 93.9h0M709.4 133.3h0M696.0 100.2h0M603.9 84.7h0M598.5 88.0h0M644.7 97.4h0M711.1 103.7h0M608.8 61.8h0M673.5 101.7h0M639.5 99.0h0M639.5 120.9h0M662.5 46.4h0M650.3 70.2h0M661.2 95.4h0M683.7 154.8h0M681.3 113.7h0M651.8 54.0h0M679.9 63.9h0M635.7 109.7h0M621.2 142.8h0M656.7 155.8h0M590.7 95.6h0M628.5 108.7h0M669.5 110.6h0M706.2 92.8h0M634.5 129.4h0M657.7 72.4h0M703.9 67.3h0M597.3 104.3h0M702.5 141.8h0M690.7 112.9h0M652.2 75.0h0M608.7 93.0h0M692.8 106.2h0M711.5 135.3h0M656.3 110.6h0M640.5 148.0h0M692.8 61.7h0M701.4 120.8h0M633.2 128.8h0M641.0 122.7h0M651.4 115.3h0M703.8 146.0h0M648.4 86.4h0M677.9 119.6h0M599.9 100.9h0M623.1 117.3h0M608.9 75.9h0M619.6 73.8h0M659.1 142.8h0M668.6 117.1h0M683.8 86.9h0M641.8 117.7h0M613.9 129.8h0M703.9 144.9h0M596.1 149.0h0M616.1 56.0h0M665.6 81.6h0M610.5 112.6h0M655.4 104.1h0M652.3 113.6h0M685.8 125.9h0M676.8 138.6h0M647.1 116.3h0M602.1 50.3h0M644.9 121.2h0M617.4 154.2h0M624.3 98.8h0M646.9 155.5h0M607.2 70.4h0M667.7 83.5h0M631.1 56.2h0M703.4 93.0h0M660.7 69.6h0M705.7 53.1h0M675.7 48.4h0M654.8 79.1h0M707.6 92.6h0M693.5 44.1h0M617.6 157.4h0M634.4 45.1h0M620.6 83.5h0M654.3 85.8h0M626.3 96.8h0M647.0 62.3h0M653.1 108.9h0M660.1 128.2h0M644.9 65.8h0M706.6 54.6h0M626.1 90.0h0M639.9 65.6h0M696.3 76.4h0M656.8 112.7h0M604.3 91.7h0M604.6 104.8h0M679.8 141.7h0M706.2 54.0h0M645.7 119.5h0M635.0 152.4h0M650.2 143.5h0M596.4 86.6h0M675.6 139.8h0M650.2 142.2h0M683.6 89.5h0M677.1 101.7h0M602.1 147.1h0M694.2 146.2h0M617.5 132.6h0M592.7 99.8h0M626.0 100.4h0M636.1 105.7h0M642.5 130.5h0M670.7 73.5h0M612.9 68.7h0M629.0 90.9h0M651.4 131.2h0M711.6 71.5h0M625.0 102.0h0M588.8 115.8h0M592.6 110.9h0M661.8 85.9h0M712.6 77.6h0M590.1 53.3h0M618.2 128.0h0M681.0 82.5h0M699.1 59.9h0M616.7 108.2h0M655.0 134.2h0M626.8 147.4h0M667.5 122.2h0M660.2 65.7h0M658.8 152.2h0M589.8 79.7h0M626.7 70.8h0M685.0 117.4h0M604.8 124.0h0M698.5 48.3h0M590.3 111.8h0M698.8 105.7h0M651.6 88.8h0M659.2 148.6h0M663.1 128.9h0M646.5 145.2h0M684.7 100.8h0M625.9 76.2h0M711.2 116.3h0M596.9 102.2h0M641.7 111.5h0M623.6 147.7h0M648.7 138.7h0M620.6 145.7h0M656.7 105.2h0M642.6 152.2h0M658.7 103.9h0M633.7 94.8h0M621.9 93.3h0M621.1 49.7h0M633.9 43.8h0M671.5 51.8h0M701.9 78.1h0M622.1 105.7h0M624.6 126.3h0M626.2 149.7h0M593.2 47.3h0M699.0 122.1h0M621.1 116.7h0M633.3 100.8h0M622.5 104.5h0M669.6 140.8h0M620.2 108.1h0M659.3 144.1h0M648.3 143.0h0M704.3 88.9h0M639.0 155.3h0M660.9 103.4h0M685.8 112.2h0M653.1 118.5h0M620.9 85.3h0M589.0 125.9h0M691.6 127.7h0M710.2 130.1h0M601.4 78.7h0M704.0 53.3h0M698.4 134.9h0M606.5 65.4h0M680.0 117.9h0M591.7 103.3h0M611.6 142.2h0M655.4 42.2h0M637.7 41.8h0M702.0 145.7h0M678.3 40.9h0M706.0 71.9h0M669.8 131.0h0M658.3 54.3h0M618.8 127.1h0M603.5 85.2h0M705.3 89.0h0M607.1 117.6h0M631.9 134.1h0M633.9 138.7h0M691.8 61.7h0M656.7 93.4h0M603.4 148.7h0M631.0 113.0h0M595.5 153.2h0M711.3 121.6h0M604.3 119.1h0M646.9 96.6h0M615.4 58.6h0M694.3 112.1h0M681.9 128.1h0M638.4 105.7h0M626.0 118.2h0M642.1 133.4h0M624.6 85.8h0M598.2 45.2h0M614.9 42.6h0M641.3 85.5h0M699.0 45.7h0M711.9 51.8h0M692.4 83.0h0M618.8 112.9h0M632.7 42.5h0M604.3 121.0h0M678.5 158.2h0M619.8 131.7h0M631.0 101.7h0M623.0 89.3h0M703.0 70.4h0M641.3 148.2h0M644.8 136.9h0M655.2 82.0h0M678.6 117.9h0M635.8 158.8h0M599.5 141.2h0M678.7 124.6h0M647.5 129.3h0M593.4 120.0h0M696.9 88.9h0M681.1 123.0h0M651.1 131.8h0M648.9 54.8h0M653.7 129.8h0M608.6 95.3h0M693.0 42.2h0M696.6 82.2h0M633.6 123.3h0M660.1 74.7h0M607.5 90.4h0M699.9 158.4h0M678.3 123.0h0M674.4 148.8h0M608.2 57.8h0M694.1 42.9h0M653.7 88.3h0M703.5 114.6h0M616.2 48.2h0M647.4 105.9h0M646.7 109.4h0M595.7 83.2h0M692.4 74.8h0M611.6 61.7h0M706.1 143.5h0M638.9 79.6h0M634.2 145.1h0M702.3 153.4h0M695.7 121.1h0M602.6 152.2h0M609.0 128.1h0M632.9 44.9h0M670.8 70.8h0M699.7 62.0h0M671.9 92.3h0M593.9 74.0h0M626.8 132.4h0M685.0 151.4h0M608.8 65.6h0M634.9 78.5h0M613.9 129.7h0M588.6 104.2h0M604.7 77.7h0M624.7 95.4h0M706.1 127.8h0M642.0 157.8h0M619.8 62.9h0M668.0 131.8h0M679.1 100.6h0M678.9 80.0h0M707.3 128.3h0M688.7 104.5h0M703.5 96.2h0M707.6 93.1h0M707.6 78.2h0M652.9 107.0h0M657.1 140.4h0M694.6 62.1h0M676.8 102.9h0M638.8 54.3h0M702.4 157.7h0M679.1 108.2h0M598.3 78.6h0M629.3 50.8h0M635.1 84.0h0M639.9 48.8h0M604.5 153.3h0M657.7 68.2h0M644.5 83.6h0M649.0 61.6h0M681.6 151.1h0M667.0 154.2h0M690.5 104.2h0M653.6 122.4h0M634.1 49.6h0M644.8 137.3h0M672.9 45.3h0M691.9 46.2h0M653.2 61.6h0M625.7 68.0h0M665.3 124.8h0M699.2 100.5h0M595.5 45.1h0M598.6 55.8h0M610.0 75.7h0M606.8 141.3h0M633.2 97.4h0M686.7 62.0h0M651.0 45.5h0M648.9 150.5h0M659.3 76.4h0M667.6 100.0h0M650.6 115.9h0M677.4 146.0h0M710.9 154.4h0M689.9 121.4h0M688.6 63.6h0M612.8 140.4h0M642.7 43.0h0M681.7 56.5h0M622.2 149.7h0M611.8 138.5h0M621.5 134.6h0M635.9 107.2h0M674.0 125.6h0M614.0 120.1h0M608.8 69.6h0M685.9 58.7h0M640.0 54.1h0M661.2 61.4h0M633.4 156.5h0M644.0 99.9h0M592.0 71.7h0M601.2 114.0h0M607.3 61.6h0M605.9 128.3h0M670.0 75.2h0M627.5 73.3h0M656.9 108.0h0M604.6 58.8h0M666.8 73.7h0M671.7 61.4h0M600.3 48.9h0M695.8 104.1h0M590.4 82.8h0M667.4 66.5h0M692.6 41.2h0M654.1 108.6h0M611.6 157.5h0M656.7 56.1h0M683.0 43.9h0M673.8 139.4h0M668.3 43.3h0M595.9 138.9h0M694.5 72.5h0M704.8 136.9h0M601.4 145.4h0M589.6 79.0h0M614.2 65.5h0M650.8 46.0h0M709.5 65.5h0M673.8 82.2h0M703.4 107.0h0M650.4 130.6h0M658.7 94.0h0M609.7 135.3h0M667.0 95.5h0M712.3 95.6h0M681.2 60.0h0M633.2 115.3h0M620.5 158.6h0M712.6 117.0h0M678.4 72.7h0M685.1 142.5h0M645.7 107.6h0M670.3 70.1h0M593.7 62.2h0M654.0 116.0h0M695.6 72.3h0M609.0 90.3h0M608.5 71.3h0M649.5 121.7h0M601.2 61.2h0M647.2 102.3h0M610.0 118.8h0M659.0 154.6h0M708.0 114.9h0M599.0 102.4h0M622.1 73.6h0M597.4 122.4h0M670.5 73.1h0M616.9 158.1h0M657.5 123.2h0M618.9 152.2h0M678.4 100.9h0M602.0 92.3h0M591.0 65.5h0M686.3 53.8h0M613.8 81.0h0M709.7 60.1h0M640.3 103.6h0M593.6 107.3h0M596.7 78.4h0M628.5 158.7h0M643.0 76.0h0M629.4 76.1h0M608.3 78.0h0M675.0 82.3h0M616.8 45.1h0M687.1 75.9h0M622.0 141.0h0M709.9 105.8h0M596.6 139.6h0M683.9 42.7h0M624.1 139.5h0M647.8 61.5h0M711.9 65.7h0M610.6 122.8h0M712.1 124.3h0M590.4 43.0h0M614.9 119.3h0M708.7 54.3h0M672.1 120.5h0M591.6 147.5h0M627.4 84.9h0M687.7 104.9h0M666.7 47.4h0M666.3 58.3h0M691.6 132.3h0M669.6 117.0h0M710.8 138.8h0M678.0 83.2h0M589.5 159.0h0M596.0 45.7h0M662.8 158.1h0M644.0 65.4h0M590.3 59.7h0M633.5 81.9h0M621.8 144.7h0M713.7 156.4h0M612.6 123.1h0M608.5 95.3h0M650.9 77.9h0M686.6 66.6h0M689.0 131.3h0M667.1 49.6h0M603.2 136.1h0M708.6 69.0h0M671.8 130.3h0M697.3 56.7h0M613.7 48.0h0M675.2 83.0h0M675.8 60.1h0M668.3 72.9h0M643.1 110.5h0M707.6 63.3h0M686.5 46.6h0M610.2 123.1h0M598.4 140.2h0M699.8 66.6h0M676.9 117.4h0M711.0 99.3h0M634.2 144.6h0M621.5 148.7h0M633.5 88.8h0M693.1 130.2h0M611.1 118.6h0M712.4 88.0h0M658.1 118.3h0M678.5 86.8h0M635.8 61.6h0M666.7 79.7h0M686.9 45.8h0M683.5 59.6h0M697.3 138.0h0M632.7 52.4h0M614.4 65.2h0M711.1 136.1h0M590.9 41.6h0M658.3 94.4h0M657.4 140.2h0M693.3 56.6h0M709.9 95.0h0M647.1 58.5h0M618.0 62.6h0M623.3 105.0h0M620.4 72.5h0M601.8 48.8h0M702.6 92.5h0M644.8 56.1h0M711.8 42.1h0M686.7 45.7h0M624.2 98.2h0M645.2 124.0h0M659.7 123.7h0M596.3 75.3h0M622.4 97.6h0M640.6 53.4h0M604.1 47.8h0M594.8 117.2h0M709.2 110.9h0M612.8 112.9h0M650.2 74.1h0M689.1 71.7h0M626.4 46.0h0M618.4 149.8h0M648.2 126.9h0M649.6 72.0h0M632.5 100.9h0M626.7 101.6h0M591.0 86.5h0M602.4 97.3h0M654.7 148.5h0M697.8 146.4h0M643.9 75.5h0M694.6 54.7h0M635.7 47.9h0M690.2 128.8h0M704.5 62.6h0M693.2 123.2h0M656.5 93.1h0M689.3 96.6h0M707.0 150.2h0M634.2 104.4h0M642.0 147.3h0M695.4 88.0h0M634.2 78.2h0M671.5 119.4h0M666.1 102.3h0M672.4 41.3h0M648.1 122.7h0M679.8 137.1h0M616.3 150.3h0M709.9 114.1h0M691.2 63.9h0M611.6 66.3h0M655.1 146.4h0M632.0 151.1h0M692.5 45.9h0M591.6 158.8h0M650.8 132.8h0M696.4 76.6h0M589.8 143.2h0M705.2 87.9h0M671.1 42.0h0M706.2 113.0h0M711.0 122.1h0M633.2 61.8h0M652.7 143.0h0M655.1 104.4h0M615.6 58.0h0M617.9 76.6h0M647.3 152.1h0M622.1 67.6h0M681.2 151.7h0M617.6 76.0h0M640.1 47.8h0M599.6 105.9h0M618.9 68.2h0M689.3 97.6h0M658.9 118.3h0M681.4 149.7h0M710.1 53.9h0M681.1 43.5h0M602.9 70.9h0M604.2 58.6h0M617.3 136.8h0M686.9 100.0h0M657.1 129.1h0M662.3 49.7h0M645.8 64.6h0M647.2 156.3h0M612.7 78.8h0M661.2 118.7h0M626.4 87.4h0M650.7 150.7h0M594.1 146.0h0M658.0 149.1h0M637.0 117.6h0M590.8 66.9h0M669.6 79.6h0M653.1 157.0h0M658.5 119.8h0M658.9 70.5h0M712.0 85.6h0M590.9 90.9h0M640.1 65.0h0M641.8 49.2h0M706.4 102.3h0M624.0 105.5h0M662.4 86.7h0M689.8 94.5h0M704.1 131.3h0M675.1 59.9h0M676.5 156.6h0M690.3 45.8h0M623.6 40.8h0M671.6 145.6h0M674.3 119.2h0M656.2 127.0h0M656.7 135.2h0M607.5 96.3h0M667.1 48.7h0M658.7 149.0h0M598.9 127.5h0M678.4 145.9h0M709.6 116.1h0M663.1 96.8h0M643.3 111.9h0M630.4 135.2h0M656.7 92.1h0M652.8 124.6h0M693.2 137.1h0M677.2 69.5h0M587.9 54.9h0M598.5 100.6h0M597.6 96.6h0M683.1 92.7h0M697.9 83.2h0M648.9 72.0h0M604.4 109.0h0M603.5 58.1h0M624.4 126.8h0M711.1 66.3h0M618.2 155.4h0M661.0 134.9h0M713.7 118.7h0M619.0 156.8h0M700.3 40.9h0M709.8 117.4h0M617.1 96.8h0M625.9 132.3h0M638.2 50.8h0M699.9 79.8h0M609.8 123.4h0M604.3 112.2h0M643.9 55.0h0M708.1 122.7h0M594.9 147.1h0M669.1 138.0h0M685.1 60.7h0M627.4 61.0h0M690.0 152.8h0M660.1 119.4h0M710.8 102.3h0M643.4 73.9h0M712.0 55.1h0M611.9 141.4h0M591.3 64.1h0M654.5 68.6h0M636.3 43.6h0M672.1 49.4h0M624.3 52.6h0M675.5 66.3h0M657.7 44.5h0M659.2 81.1h0M702.2 63.5h0M625.2 143.5h0M595.6 98.7h0M649.0 75.0h0M609.1 99.7h0M591.6 41.7h0M623.9 85.3h0M620.4 124.7h0M640.2 112.7h0M662.2 124.8h0M705.2 107.0h0M675.3 106.5h0M597.5 139.4h0M654.5 45.3h0M681.4 100.0h0M707.2 90.0h0M647.2 146.7h0M704.8 131.8h0M643.9 91.7h0M680.6 146.8h0M645.6 123.8h0M658.6 105.9h0M614.8 74.0h0M620.0 157.1h0M591.1 66.5h0M613.5 137.2h0M672.4 77.1h0M601.3 120.3h0M681.9 116.6h0M677.9 111.4h0M591.6 134.8h0M697.6 60.4h0M636.1 157.1h0M710.8 137.3h0M694.0 59.2h0M698.1 138.0h0M613.1 148.6h0M690.3 149.1h0M701.0 51.6h0M609.2 136.0h0M609.7 81.8h0M687.2 138.9h0M638.2 89.5h0M675.5 158.5h0M667.0 81.7h0M618.1 62.8h0M664.9 125.8h0M615.9 128.7h0M664.0 108.4h0M654.2 89.3h0M589.8 104.3h0M671.3 145.7h0M710.4 117.3h0M608.1 142.3h0M640.0 154.7h0M706.8 51.3h0M594.5 46.4h0M672.9 98.9h0M666.4 79.1h0M662.6 51.9h0M613.9 127.5h0M616.7 54.1h0M669.6 157.0h0M705.7 145.0h0M677.7 41.5h0M607.5 109.5h0M654.9 139.7h0M591.7 114.7h0M597.0 130.0h0M599.2 98.2h0M685.1 157.2h0M688.2 133.2h0M625.5 116.2h0M656.1 99.2h0M662.9 93.3h0M635.6 130.9h0M669.3 156.1h0M704.6 135.4h0M601.8 100.2h0M650.5 134.1h0M702.4 63.9h0M589.2 143.6h0M710.8 80.6h0M663.6 86.2h0M636.2 116.0h0M675.0 147.3h0M633.8 99.1h0M644.6 157.3h0" stroke="#c03c2a" stroke-opacity="0.4" stroke-width="1.5" stroke-linecap="round" fill="none"/>
<path d="M653.0 149.3h0M709.9 44.0h0M685.1 53.8h0M650.5 115.2h0M597.8 109.1h0M675.0 81.8h0M655.8 87.5h0M607.1 70.8h0M706.4 116.0h0M656.0 136.0h0M693.2 130.1h0M638.3 104.6h0M628.5 48.2h0M704.3 50.1h0M634.8 141.5h0M627.0 148.5h0M590.6 58.3h0M644.2 115.9h0M687.8 146.7h0M691.1 62.6h0M712.8 46.1h0M646.6 81.9h0M590.9 64.7h0M713.0 155.5h0M631.3 159.0h0M680.9 44.5h0M663.8 64.9h0M622.9 125.6h0M614.0 82.3h0M588.6 78.6h0M626.1 54.0h0M600.1 88.7h0M598.2 151.4h0M620.4 84.1h0M595.9 136.8h0M611.7 49.6h0M634.6 148.6h0M703.5 95.8h0M661.0 49.3h0M701.6 129.9h0M618.9 140.1h0M608.0 97.8h0M624.0 107.8h0M619.5 105.0h0M620.1 42.5h0M602.2 134.0h0M644.2 101.3h0M671.0 70.8h0M611.6 88.9h0M682.5 127.3h0M645.8 112.5h0M620.0 152.8h0M668.5 135.8h0M634.4 109.1h0M677.3 103.6h0M683.7 72.8h0M686.7 78.3h0M652.8 57.6h0M638.7 145.5h0M591.7 62.9h0M656.2 118.5h0M674.4 121.9h0M678.5 111.9h0M607.2 105.0h0M623.2 41.3h0M651.8 156.0h0M646.6 130.6h0M666.4 45.0h0M657.0 157.6h0M670.2 75.8h0M701.8 119.8h0M705.3 141.0h0M661.3 96.0h0M654.7 78.4h0M695.3 55.7h0M712.5 80.8h0M643.3 112.7h0M627.1 112.6h0M594.8 143.6h0M601.2 144.0h0M696.0 133.8h0M682.4 62.7h0M659.4 47.9h0M681.8 133.9h0M614.4 93.0h0M599.3 119.6h0M675.8 47.7h0M665.0 144.6h0M610.4 148.1h0M622.3 42.5h0M598.5 130.2h0M612.1 142.4h0M642.7 50.4h0M690.7 79.4h0M604.4 41.1h0M625.9 95.3h0M650.3 109.6h0M598.1 40.9h0M699.6 90.9h0M679.0 146.5h0M662.7 128.3h0M615.7 65.7h0M652.5 157.4h0M710.2 68.0h0M667.7 74.9h0M633.1 73.9h0M713.2 86.0h0M646.3 50.8h0M694.7 50.7h0M692.3 69.0h0M617.5 45.6h0M632.4 153.8h0M633.4 79.9h0M681.5 67.8h0M683.2 155.0h0M695.7 45.4h0M686.3 134.0h0M687.9 109.1h0M601.4 120.7h0M661.0 98.1h0M684.5 62.2h0M635.2 115.4h0M700.8 157.9h0M699.5 71.7h0M641.0 102.7h0M645.8 50.0h0M634.0 150.8h0M635.2 144.7h0M700.1 101.5h0M703.3 156.2h0M589.1 110.5h0M708.0 77.3h0M633.6 58.6h0M698.9 107.3h0M662.4 111.3h0M700.9 101.8h0M657.1 93.5h0M630.2 155.4h0M669.3 99.1h0M599.2 116.3h0M593.4 96.4h0M614.5 87.0h0M615.7 67.2h0M643.0 54.8h0M619.6 125.8h0M600.7 140.8h0M639.7 65.7h0M685.2 85.2h0M634.1 40.7h0M610.4 151.6h0M650.1 92.1h0M662.1 51.2h0M607.0 142.7h0M667.4 78.4h0M696.5 75.1h0M644.1 133.5h0M695.2 73.8h0M711.5 65.5h0M621.4 101.5h0M658.7 104.6h0M646.7 132.9h0M619.6 92.1h0M673.0 146.1h0M619.9 82.6h0M647.1 72.3h0M652.4 151.9h0M617.3 139.0h0M699.8 98.5h0M632.1 54.6h0M657.1 140.6h0M636.0 70.8h0M692.2 59.2h0M658.8 131.3h0M652.1 75.3h0M663.3 80.4h0M672.1 134.8h0M688.9 132.2h0M603.5 72.5h0M672.0 115.9h0M700.3 92.7h0M595.5 49.3h0M594.0 104.3h0M628.6 45.0h0M702.3 48.3h0M631.7 132.3h0M674.0 66.5h0M709.0 93.6h0M691.5 90.6h0M669.4 153.8h0M595.3 107.8h0M662.3 155.1h0M663.6 71.6h0M605.3 106.1h0M608.7 82.1h0M708.6 62.2h0M613.7 119.9h0M651.3 148.1h0M629.1 130.4h0M640.1 158.3h0M703.6 63.6h0M634.7 96.7h0M647.1 110.6h0M674.9 58.3h0M669.7 138.1h0M639.6 72.5h0M619.7 112.5h0M603.1 65.6h0M625.8 122.1h0M681.4 105.0h0M606.6 82.5h0M595.5 158.6h0M645.9 139.8h0M618.9 73.3h0M606.0 86.5h0M674.2 105.9h0M628.6 55.8h0M622.2 131.7h0M610.1 158.0h0M693.4 60.6h0M588.3 138.2h0M593.3 119.9h0M651.2 89.4h0M661.1 42.7h0M682.3 140.2h0M592.6 74.0h0M693.6 63.9h0M606.1 135.9h0M712.5 157.6h0M612.3 56.3h0M589.2 54.6h0M629.2 154.3h0M683.0 62.0h0M637.8 105.6h0M607.8 47.4h0M611.9 76.1h0M592.6 156.0h0M710.5 96.5h0M642.5 106.2h0M692.9 89.2h0M703.8 153.9h0M622.8 109.1h0M708.3 76.6h0M712.8 99.9h0M672.4 51.9h0M637.7 118.3h0M613.7 155.5h0M637.9 107.8h0M685.9 77.6h0M676.3 127.4h0M685.6 78.2h0M630.6 109.7h0M644.2 96.6h0M659.2 130.4h0M605.9 65.7h0M603.8 102.0h0M613.9 150.8h0M613.8 93.6h0M684.5 74.1h0M598.0 68.0h0M676.6 82.0h0M706.9 59.0h0M626.1 99.2h0M630.0 75.6h0M600.9 100.5h0M682.2 84.3h0M711.8 114.3h0M633.5 83.9h0M622.9 51.9h0M647.3 103.9h0M688.1 49.9h0M591.7 148.1h0M633.3 126.4h0M698.3 73.8h0M610.3 133.0h0M626.0 100.1h0M588.0 109.6h0M643.4 65.4h0M612.2 150.3h0M701.1 77.4h0M627.9 80.8h0M631.4 86.0h0M708.8 42.6h0M633.6 105.5h0M664.8 80.1h0M678.7 91.3h0M606.8 148.5h0M614.0 124.0h0M704.9 60.7h0M683.1 132.7h0M631.5 149.1h0M605.3 102.0h0M711.1 102.8h0M698.2 88.2h0M669.5 98.1h0M677.3 127.6h0M678.4 130.5h0M614.8 117.9h0M687.9 129.0h0M610.3 105.7h0M589.7 155.6h0M669.5 69.7h0M663.7 77.6h0M658.1 133.7h0M695.9 156.9h0M670.9 104.3h0M652.8 58.6h0M592.1 145.9h0M710.5 138.8h0M611.6 114.7h0M612.5 78.8h0M687.5 150.9h0M589.4 132.9h0M677.3 123.2h0M606.5 82.1h0M681.7 64.7h0M609.3 97.3h0M609.3 71.7h0M607.6 65.7h0M600.7 89.4h0M630.5 57.2h0M610.3 88.4h0M596.8 75.7h0M593.5 128.1h0M603.3 96.1h0M605.1 121.4h0M710.5 124.0h0M598.7 63.7h0M608.7 145.4h0M598.4 130.9h0M684.9 139.3h0M641.5 90.1h0M632.2 117.9h0M648.8 124.2h0M643.0 140.4h0M663.3 72.6h0M641.0 68.1h0M703.3 46.2h0M638.5 91.4h0M664.2 52.8h0M672.5 56.4h0M622.8 77.6h0M597.2 158.9h0M595.6 147.5h0M674.2 150.7h0M662.5 105.5h0M644.0 105.6h0M629.5 61.5h0M661.6 134.6h0M710.9 148.1h0M664.0 64.8h0M658.3 59.8h0M696.1 130.0h0M635.3 78.9h0M699.9 92.2h0M597.7 119.7h0M641.0 54.5h0M695.7 65.4h0M612.0 103.2h0M619.3 80.0h0M644.6 150.7h0M662.3 91.8h0M692.6 150.4h0M703.3 43.6h0M689.3 132.4h0M677.5 126.7h0M670.8 65.1h0M705.1 134.7h0M618.2 103.7h0M611.6 68.5h0M666.7 57.2h0M589.0 113.7h0M665.4 148.1h0M591.3 77.4h0M603.0 148.9h0M689.3 58.7h0M647.3 122.1h0M666.0 97.8h0M655.9 65.5h0M595.7 59.3h0M651.9 57.6h0M699.2 75.2h0M589.5 117.1h0M671.5 128.7h0M644.0 149.0h0M673.0 151.2h0M688.0 73.0h0M642.1 65.1h0M667.5 86.5h0M645.9 84.0h0M610.1 110.4h0M679.3 82.0h0M604.1 113.4h0M666.3 105.6h0M692.2 152.0h0M683.9 111.5h0M706.1 107.3h0M653.1 65.0h0M628.5 83.7h0M621.4 73.0h0M611.0 52.9h0M657.9 92.2h0M689.1 126.4h0M704.9 148.4h0M601.7 118.5h0M704.5 50.4h0M605.3 43.0h0M610.4 152.7h0M698.6 57.5h0M588.5 53.3h0M696.9 78.8h0M659.7 83.2h0M640.9 115.8h0M706.3 48.3h0M640.8 125.1h0M687.0 114.9h0M623.2 43.8h0M616.7 106.9h0M700.5 110.3h0M663.1 86.0h0M682.4 155.5h0M647.6 116.7h0M654.7 70.7h0M702.1 49.4h0M640.8 150.0h0M660.0 86.8h0M614.1 84.7h0M682.1 121.3h0M666.0 153.1h0M634.3 74.3h0M666.2 150.7h0M676.8 142.1h0M692.2 43.2h0M668.2 69.7h0M673.6 133.8h0M689.3 63.2h0M634.7 59.3h0M692.2 124.0h0M658.3 105.6h0M680.6 94.4h0M610.6 153.6h0M685.3 99.3h0M658.7 65.1h0M617.3 47.0h0M671.5 136.9h0M620.9 63.6h0M642.3 74.2h0M683.2 69.9h0M620.6 88.6h0M696.1 124.9h0M602.6 57.2h0" stroke="#8a2014" stroke-opacity="0.55" stroke-width="1.5" stroke-linecap="round" fill="none"/>
<path d="M594.4 119.8h0M670.2 60.3h0M623.5 141.4h0M594.1 127.2h0M692.2 118.0h0M628.0 128.2h0M704.0 106.7h0M666.2 111.7h0M704.9 155.9h0M671.5 98.4h0M603.5 98.3h0M641.2 121.1h0M649.0 69.2h0M613.0 129.3h0M659.8 131.7h0M612.2 93.4h0M602.6 61.1h0M631.9 73.1h0M707.9 53.1h0M652.5 51.6h0M699.4 52.8h0M695.7 78.0h0M633.0 52.2h0M666.8 49.1h0M672.0 103.7h0M622.5 117.5h0M677.2 48.3h0M702.9 144.2h0M688.4 149.9h0M631.1 55.9h0M642.2 149.2h0M673.4 53.5h0M682.4 136.3h0M645.9 117.4h0M697.6 90.8h0M687.2 108.1h0M686.8 140.9h0M606.5 62.9h0M661.7 81.7h0M625.3 40.6h0M643.7 158.7h0M639.3 66.1h0M634.8 111.7h0M591.2 60.7h0M654.0 83.7h0M675.4 55.9h0M595.8 148.6h0M682.4 116.8h0M663.8 63.4h0M606.7 93.3h0" stroke="#6a140c" stroke-opacity="0.75" stroke-width="2.2" stroke-linecap="round" fill="none"/>
</g>
<rect x="586.9" y="39.6" width="127.9" height="120.4" fill="url(#h2)"/>
<rect x="586.9" y="39.6" width="127.9" height="120.4" fill="url(#v2)"/>
<rect x="587.4" y="40.1" width="126.9" height="119.4" fill="none" stroke="#8e2c26" stroke-width="1"/>
<rect x="719.8" y="39.6" width="127.8" height="120.4" fill="url(#b3)"/>
<g filter="url(#bl)">
<path d="M806.8 95.4h0M783.8 50.0h0M840.1 68.9h0M769.7 135.9h0M839.9 84.2h0M777.5 140.0h0M782.2 54.7h0M748.1 80.6h0M721.2 48.1h0M833.2 139.3h0M825.0 76.5h0M764.6 151.7h0M727.4 91.9h0M766.5 128.6h0M807.0 158.3h0M842.4 112.5h0M836.2 111.4h0M746.8 100.8h0M754.6 148.3h0M821.6 52.7h0M802.5 116.9h0M817.8 57.9h0M794.0 53.5h0M774.5 83.4h0M765.5 89.0h0M785.5 53.7h0M787.2 49.5h0M809.0 44.9h0M781.7 41.0h0M819.2 152.2h0M814.5 94.6h0M779.0 130.0h0M730.5 82.7h0M781.2 61.1h0M778.4 82.2h0M738.3 110.3h0M775.7 55.5h0M788.1 67.3h0M792.3 78.4h0M811.1 111.4h0M721.1 80.4h0M816.2 80.5h0M817.7 142.6h0M837.2 129.6h0M774.4 97.4h0M731.6 75.4h0M753.7 135.1h0M819.5 115.3h0M816.8 91.6h0M801.3 82.8h0M722.6 102.5h0M831.2 99.5h0M834.3 86.4h0M752.7 59.4h0M774.9 77.3h0M734.6 77.6h0M840.7 133.0h0M773.7 68.4h0M783.3 80.0h0M798.7 73.8h0M799.0 131.4h0M756.1 66.8h0M792.1 108.4h0M831.7 136.8h0M778.9 99.1h0M819.9 108.7h0M736.0 85.8h0M735.3 119.9h0M819.0 115.9h0M727.7 88.6h0M723.0 121.5h0M815.5 64.4h0M810.8 46.5h0M739.0 150.3h0M748.0 117.4h0M838.4 131.4h0M778.1 91.3h0M771.4 58.9h0M819.5 102.2h0M816.9 97.4h0M750.5 71.2h0M735.7 125.8h0M783.8 86.2h0M843.5 83.8h0M765.5 66.9h0M755.8 70.0h0M785.1 90.3h0M779.9 139.5h0M764.9 112.5h0M785.1 152.8h0M795.8 150.8h0M766.2 63.5h0M746.9 137.6h0M735.2 75.0h0M827.5 48.0h0M809.3 87.1h0M748.8 152.6h0M828.9 65.8h0M737.4 106.3h0M730.0 152.6h0M762.0 78.0h0M727.8 98.4h0M791.4 55.6h0M808.9 101.4h0M824.1 149.5h0M830.4 92.6h0M764.5 116.1h0M772.0 94.5h0M751.9 58.2h0M733.7 115.7h0M835.6 156.9h0M754.3 64.9h0M731.6 53.0h0M824.1 81.6h0M767.1 63.8h0M808.9 63.2h0M840.7 43.4h0M837.4 89.1h0M776.6 99.9h0M750.7 149.1h0M786.1 105.1h0M830.5 118.9h0M826.3 54.7h0M758.5 65.7h0M785.2 71.6h0M833.7 65.4h0M769.7 88.5h0M760.8 124.6h0M782.8 134.8h0M765.1 139.6h0M825.7 88.3h0M838.7 150.4h0M749.0 105.8h0M830.4 67.7h0M830.0 76.5h0M824.0 85.3h0M839.6 144.4h0M768.5 42.1h0M798.7 107.7h0M758.0 149.0h0M773.4 103.2h0M749.1 127.2h0M788.2 57.9h0M839.0 73.5h0M738.0 126.2h0M773.6 136.0h0M774.3 106.2h0M811.3 144.1h0M741.4 53.9h0M781.2 58.8h0M820.8 81.0h0M765.6 50.7h0M755.2 83.5h0M754.2 65.6h0M756.3 126.3h0M736.2 100.4h0M802.4 43.2h0M823.8 130.3h0M751.6 47.5h0M730.0 144.1h0M726.1 112.6h0M794.5 118.5h0M777.3 94.0h0M779.2 130.2h0M733.5 72.4h0M782.9 89.8h0M797.8 87.1h0M842.6 65.9h0M836.7 42.6h0M823.1 52.7h0M757.1 90.9h0M835.3 56.3h0M784.9 134.2h0M782.2 126.1h0M846.5 135.6h0M752.3 79.1h0M789.8 129.4h0M844.2 141.0h0M819.0 112.8h0M810.3 143.8h0M821.5 60.9h0M749.2 88.8h0M842.1 77.8h0M823.1 75.5h0M809.9 143.8h0M845.3 108.3h0M795.8 60.5h0M827.8 65.6h0M736.7 142.6h0M786.5 95.3h0M744.8 149.9h0M807.2 143.0h0M769.9 97.5h0M785.1 51.5h0M723.3 111.0h0M765.9 140.3h0M816.8 119.8h0M793.1 69.2h0M794.0 119.5h0M753.2 95.7h0M729.6 120.3h0M775.2 66.4h0M810.1 135.1h0M748.2 41.5h0M794.3 153.3h0M731.8 135.6h0M797.0 124.1h0M722.4 87.5h0M726.2 152.8h0M845.1 124.9h0M795.5 132.3h0M737.3 157.2h0M769.4 91.3h0M722.3 50.2h0M837.3 63.8h0M784.1 126.5h0M812.6 92.9h0M807.8 139.4h0M746.4 86.2h0M793.3 122.6h0M792.3 44.4h0M751.5 82.9h0M829.8 113.6h0M754.9 107.7h0M758.1 155.1h0M808.2 144.7h0M770.0 56.1h0M820.0 62.0h0M828.0 131.5h0M829.5 108.3h0M801.8 44.0h0M756.0 54.8h0M728.7 103.7h0M728.6 99.2h0M740.5 62.9h0M821.6 157.4h0M800.3 113.4h0M743.3 90.9h0M832.8 49.1h0M768.4 69.4h0M748.9 58.4h0M813.0 80.7h0M844.8 78.7h0M809.8 83.7h0M817.7 47.7h0M844.6 69.9h0M813.9 78.9h0M723.0 104.4h0M736.6 133.2h0M747.8 46.5h0M788.6 109.9h0M801.5 125.1h0M727.1 147.7h0M822.4 129.0h0M721.5 75.0h0M746.6 145.1h0M754.7 87.6h0M747.1 127.2h0M736.0 95.7h0M815.6 83.4h0M749.3 101.3h0M744.7 126.7h0M823.2 68.4h0M727.1 84.8h0M722.2 141.1h0M840.7 110.8h0M786.6 110.3h0M766.3 104.6h0M798.1 141.0h0M758.0 58.0h0M776.7 46.4h0M760.0 101.0h0M828.4 110.2h0M845.0 133.5h0M844.7 145.0h0M762.2 61.8h0M808.6 128.1h0M772.0 137.8h0M801.9 137.5h0M721.0 140.0h0M831.4 68.3h0M826.5 71.8h0M827.7 139.3h0M825.2 51.9h0M745.3 105.5h0M750.8 85.6h0M841.5 148.6h0M741.3 60.5h0M818.8 107.9h0M721.9 154.3h0M743.8 50.7h0M832.1 138.4h0M733.5 108.9h0M839.4 158.5h0M835.1 140.0h0M838.6 87.8h0M810.2 141.9h0M824.0 111.3h0M826.4 130.3h0M836.8 147.9h0M830.7 62.6h0M763.6 99.1h0M721.3 74.1h0M830.5 156.1h0M782.5 101.8h0M734.9 104.2h0M838.1 77.1h0M803.4 137.3h0M778.1 91.8h0M810.6 61.6h0M763.4 68.0h0M728.9 69.4h0M825.4 129.2h0M771.5 54.1h0M785.4 74.5h0M800.0 142.0h0M766.2 79.3h0M824.8 142.0h0M808.0 80.3h0M837.3 48.1h0M845.1 126.1h0M728.6 60.7h0M821.0 151.3h0M733.2 113.9h0M828.7 119.5h0M837.6 144.5h0M743.1 50.7h0M833.1 69.8h0M831.1 153.8h0M769.4 131.4h0M747.3 101.2h0M736.3 114.8h0M738.7 91.0h0M723.8 156.4h0M798.2 80.6h0M749.1 133.4h0M782.6 107.6h0M726.1 83.9h0M779.5 140.1h0M746.5 46.4h0M788.5 66.3h0M725.6 53.4h0M781.2 91.2h0M754.1 124.0h0M727.1 75.4h0M783.1 69.5h0M842.4 80.7h0M778.2 153.1h0M786.2 68.2h0M780.7 158.0h0M825.4 77.4h0M730.0 150.1h0M758.5 50.2h0M773.6 131.0h0M767.6 135.7h0M838.8 120.2h0M831.7 110.4h0M731.5 120.8h0M752.9 136.3h0M833.7 95.8h0M809.5 46.4h0M793.1 118.7h0M836.4 48.8h0M745.5 130.7h0M797.9 93.9h0M843.0 49.0h0M830.3 53.9h0M751.3 118.5h0M727.3 131.2h0M759.6 134.9h0M796.3 70.9h0M820.3 149.3h0M820.3 51.7h0M776.4 48.6h0M777.3 74.0h0M787.4 143.3h0M814.5 134.6h0M727.9 98.1h0M773.1 126.5h0M832.3 41.5h0M829.3 79.8h0M724.9 113.9h0M788.1 154.3h0M821.9 96.1h0M818.9 146.0h0M785.7 78.2h0M803.0 141.3h0M810.4 113.8h0M741.4 126.9h0M796.2 126.3h0M778.6 45.1h0M752.8 110.7h0M740.4 79.1h0M772.3 57.5h0M756.2 93.8h0M835.6 125.7h0M733.6 86.9h0M822.6 40.6h0M809.9 125.6h0M752.4 42.2h0M759.7 79.5h0M804.4 49.6h0M741.7 126.0h0M725.8 111.0h0M767.6 80.3h0M772.2 80.9h0M820.7 149.0h0M792.5 121.6h0M827.0 53.5h0M779.8 43.8h0M815.9 146.4h0M737.9 90.6h0M799.0 103.6h0M727.6 89.0h0M763.4 111.9h0M833.1 49.9h0M788.8 95.3h0M769.4 63.4h0M777.6 54.6h0M805.6 75.5h0M830.5 69.4h0M747.4 62.8h0M812.3 140.1h0M830.1 101.7h0M801.1 82.8h0M788.2 53.9h0M830.5 90.9h0M781.3 52.8h0M785.4 63.8h0M844.6 49.4h0M765.4 49.9h0M746.2 100.0h0M729.3 115.6h0M796.2 131.3h0M763.8 115.8h0M763.3 122.0h0M845.0 61.7h0M806.5 135.0h0M752.0 46.5h0M785.2 101.0h0M797.7 130.7h0M762.8 136.1h0M810.4 69.6h0M750.0 94.2h0M828.7 144.2h0M787.7 103.2h0M783.1 129.1h0M723.6 124.4h0M785.7 107.2h0M828.3 53.4h0M785.2 153.2h0M751.6 113.6h0M755.7 131.5h0M801.2 57.1h0M738.3 81.7h0M776.7 135.0h0M839.4 106.0h0M732.1 94.9h0M839.6 49.8h0M776.4 72.2h0M802.1 65.6h0M726.5 62.7h0M786.8 90.5h0M826.9 65.8h0M802.7 150.3h0M724.0 98.8h0M746.9 86.3h0M753.3 130.4h0M753.1 157.0h0M746.8 75.5h0M801.2 55.3h0M742.5 80.2h0M804.3 137.8h0M795.0 74.5h0M791.7 156.9h0M767.2 54.0h0M725.6 94.2h0M840.2 152.0h0M808.3 68.1h0M768.3 65.8h0M776.0 131.9h0M724.7 102.3h0M747.8 113.9h0M820.1 131.2h0M764.5 146.8h0M722.6 75.6h0M739.3 121.5h0M781.6 111.9h0M727.9 52.9h0M815.1 117.4h0M836.5 91.9h0M795.9 91.4h0M831.1 75.6h0M782.7 133.8h0M767.7 92.0h0M733.3 154.4h0M783.8 96.3h0M741.6 89.1h0M765.1 62.7h0M766.4 82.5h0M801.5 49.3h0M845.7 140.5h0M722.1 94.4h0M813.2 45.4h0M832.9 155.3h0M729.5 78.8h0M842.6 74.3h0M813.5 135.5h0M721.3 97.2h0M762.3 138.2h0M730.7 119.9h0M723.9 112.5h0M780.6 150.4h0M844.9 138.0h0M808.7 85.3h0M795.2 90.8h0M814.2 156.2h0M803.7 58.0h0M790.2 103.6h0M833.7 78.6h0M770.7 122.8h0M796.9 99.0h0M796.5 67.7h0M732.1 92.2h0M787.5 126.9h0M770.8 80.3h0M841.4 148.1h0M747.1 141.8h0M763.7 46.7h0M821.0 103.0h0M838.0 92.1h0M726.0 87.0h0M808.4 68.3h0M803.6 67.6h0M804.9 42.0h0M809.8 64.8h0M769.5 155.3h0M734.0 49.5h0M842.7 136.8h0M792.2 102.8h0M778.7 116.9h0M823.6 56.8h0M765.8 100.2h0M740.7 53.4h0M801.8 157.1h0M823.3 78.1h0M763.2 157.6h0M824.1 111.2h0M730.9 56.1h0M815.0 84.1h0M804.0 60.1h0M806.9 101.4h0M734.6 55.8h0M752.2 87.2h0M788.7 152.6h0M744.6 63.6h0M787.6 67.0h0M721.4 100.5h0M772.6 117.7h0M784.9 49.3h0M776.2 51.5h0M730.3 142.2h0M834.9 153.8h0M813.0 113.2h0M784.2 102.6h0M760.9 143.9h0M779.1 148.7h0M766.2 70.2h0M801.1 124.0h0M782.0 66.6h0M731.4 115.4h0M737.7 140.8h0M778.6 126.3h0M754.8 148.0h0M751.1 158.0h0M728.9 127.8h0M758.4 151.8h0M796.8 127.5h0M789.5 131.3h0M756.4 85.4h0M804.2 47.7h0M757.1 63.9h0M742.9 70.6h0M724.0 106.5h0M773.7 128.2h0M841.6 111.3h0M803.5 146.6h0M841.9 93.1h0M829.5 91.0h0M778.7 70.7h0M814.4 70.4h0M760.5 93.2h0M722.9 137.6h0M720.9 56.4h0M833.7 132.3h0M723.5 66.6h0M772.7 42.8h0M750.3 81.5h0M844.2 46.8h0M808.7 65.7h0M799.6 42.0h0M815.6 150.0h0M728.6 155.8h0M829.0 77.1h0M781.6 41.2h0M743.6 47.3h0M764.1 70.3h0M729.5 48.1h0M744.0 47.5h0M737.9 139.8h0M774.3 51.0h0M829.8 61.0h0M749.0 45.8h0M826.1 93.6h0M793.8 101.2h0M828.1 147.4h0M821.6 103.6h0M808.5 66.3h0M829.4 101.8h0M724.0 79.7h0M840.0 75.2h0M735.9 157.3h0M774.6 108.6h0M766.3 71.4h0M761.3 151.1h0M782.3 124.9h0M798.1 69.7h0M834.8 149.2h0M738.3 46.3h0M812.1 58.4h0M829.9 98.3h0M785.7 73.2h0M790.6 77.6h0M722.8 103.9h0M830.6 119.5h0M779.4 141.1h0M726.8 65.8h0M767.1 43.3h0M732.1 135.3h0M780.0 118.1h0M744.0 148.3h0M836.8 80.7h0M745.8 81.5h0M756.6 86.0h0M806.9 131.3h0M834.0 113.4h0M824.2 117.4h0M730.8 61.1h0M750.5 53.3h0M753.5 119.9h0M814.3 93.8h0M789.5 116.6h0M806.9 91.4h0M766.5 102.3h0M793.9 56.7h0M778.6 100.0h0M816.5 74.4h0M841.4 126.2h0M799.1 100.0h0M742.3 80.9h0M759.8 97.0h0M730.0 43.1h0M846.3 41.6h0M758.5 88.3h0M845.0 81.0h0M757.1 98.0h0M799.8 144.3h0M807.5 49.6h0M834.3 148.1h0M733.9 137.7h0M835.8 140.2h0M838.0 77.0h0M800.9 132.8h0M825.5 112.0h0M832.0 118.8h0M769.0 152.6h0M772.4 53.0h0M835.7 84.6h0M820.7 145.6h0M819.1 122.2h0M761.7 100.7h0M770.4 136.3h0M760.3 92.7h0M818.3 54.0h0M819.9 106.2h0M806.1 121.2h0M751.4 145.8h0M798.8 82.9h0M734.2 65.0h0M725.2 75.0h0M738.0 44.2h0M727.4 52.7h0M748.2 51.9h0M759.6 53.2h0M740.6 109.4h0M768.0 121.6h0M749.9 117.7h0M756.2 91.3h0M752.6 51.4h0M846.4 71.2h0M721.1 113.5h0M727.9 52.7h0M749.4 64.6h0M767.8 80.3h0M759.6 132.7h0M768.8 147.1h0M809.1 145.3h0M775.2 80.5h0M793.8 158.8h0M730.8 121.3h0M824.6 106.0h0M736.4 158.8h0M762.0 149.7h0M780.5 54.6h0M787.9 75.5h0M759.7 146.1h0M834.1 108.7h0M803.4 119.3h0M777.3 131.5h0M797.2 158.1h0M821.8 145.6h0M725.5 95.9h0M739.9 76.8h0M730.0 143.4h0M778.1 106.5h0M824.8 131.7h0M830.0 44.9h0M733.5 96.8h0M794.5 157.2h0M765.0 56.9h0M751.6 55.5h0M814.8 105.2h0M752.2 130.2h0M769.0 63.9h0M729.9 132.7h0M825.2 124.7h0M841.5 154.7h0M721.5 56.5h0M784.1 101.7h0M765.3 66.2h0M754.2 156.1h0M782.8 90.5h0M813.9 127.3h0M821.4 133.4h0M759.6 69.6h0M784.0 128.1h0M754.5 148.0h0M736.0 68.2h0M769.3 61.6h0M737.4 77.5h0M721.8 111.8h0M789.8 57.6h0M814.0 89.4h0M789.7 145.3h0M783.7 53.5h0M762.8 58.8h0M832.5 68.7h0M729.8 94.0h0M763.0 133.3h0M723.6 67.0h0M760.4 53.4h0M785.4 146.5h0M836.9 110.0h0M722.2 116.1h0M739.6 104.0h0M798.9 152.7h0M792.2 70.6h0M731.6 129.7h0M765.3 77.7h0M789.0 120.1h0M796.9 42.0h0M826.1 118.9h0M830.2 119.8h0M803.5 72.7h0M764.4 151.1h0M760.4 148.5h0M753.5 94.7h0M842.1 116.4h0M786.3 41.7h0M770.4 56.1h0M792.0 156.4h0M753.5 150.7h0M837.1 61.0h0M832.2 124.8h0M741.8 57.6h0M798.0 143.7h0M758.8 131.8h0M801.4 55.6h0M809.5 74.9h0M742.2 94.8h0M725.2 144.1h0M725.3 157.2h0M844.9 146.0h0M795.8 157.5h0M726.4 84.5h0M780.5 59.8h0M807.2 137.5h0M777.0 47.2h0M762.5 142.2h0M845.0 86.1h0M722.5 143.6h0M809.5 45.4h0M783.8 83.6h0M845.4 108.2h0M837.7 90.0h0M764.4 103.3h0M732.0 88.6h0M760.4 61.5h0M826.1 108.5h0M811.3 112.3h0M749.0 73.6h0M744.1 115.1h0M759.3 56.0h0M824.1 56.0h0M843.6 79.5h0M805.6 157.2h0M751.4 144.7h0M762.5 104.0h0M777.8 104.6h0M806.8 131.4h0M768.5 122.8h0M830.9 101.0h0M779.9 95.5h0M743.9 112.5h0M753.9 84.7h0M837.8 74.8h0M762.7 118.5h0M796.7 141.2h0M736.7 71.6h0M742.9 57.4h0M770.4 131.6h0M825.5 64.0h0M810.0 62.9h0M777.8 55.6h0M750.7 137.0h0M811.1 99.1h0M832.4 53.8h0M758.1 120.5h0M737.1 93.6h0M774.6 61.4h0M755.5 71.5h0M789.1 80.7h0M792.3 79.5h0M811.5 144.5h0M798.3 139.4h0M779.2 50.6h0M833.6 64.0h0M730.2 129.0h0M732.7 101.0h0M774.6 46.7h0M777.8 54.1h0M808.8 140.3h0M773.4 106.8h0M770.2 111.4h0M842.7 68.5h0M795.8 42.2h0M836.1 47.2h0M774.6 84.0h0M789.5 70.3h0M743.5 103.0h0M823.4 155.4h0M772.8 69.5h0M761.3 54.6h0M830.7 135.7h0M738.2 148.5h0M783.3 110.8h0M800.2 129.3h0M747.5 82.7h0M790.0 115.2h0M811.7 67.3h0M745.5 120.5h0M774.3 156.1h0M841.1 154.3h0M844.1 145.5h0M820.8 46.8h0M821.1 140.1h0M742.3 53.7h0M834.4 61.2h0M726.9 82.8h0M764.7 76.4h0M744.3 94.7h0M826.9 44.7h0M781.1 151.8h0M822.5 43.9h0M792.4 63.6h0M740.1 143.1h0M835.9 158.6h0M722.8 42.5h0M763.4 84.9h0M734.4 148.8h0M779.4 157.3h0M726.5 96.0h0M734.0 155.7h0M833.7 54.3h0M765.2 155.7h0M795.6 87.9h0M797.5 96.3h0M827.0 51.3h0M793.1 148.6h0M724.5 77.3h0M773.3 111.4h0M825.5 104.7h0M731.5 153.5h0M744.1 136.1h0M734.8 53.0h0M804.4 87.9h0M827.3 47.7h0M734.1 50.3h0M777.1 60.5h0M741.3 94.4h0M818.6 134.2h0M771.1 81.7h0M753.5 122.5h0M767.6 124.0h0M735.3 67.0h0M789.6 41.2h0M833.7 140.2h0M775.6 52.4h0M768.3 81.6h0M765.3 92.3h0M738.8 47.8h0M730.4 57.4h0M745.5 89.9h0M739.1 57.9h0M793.9 107.6h0M755.8 124.1h0M787.8 65.1h0M829.3 108.0h0M738.5 99.6h0M726.7 77.1h0M832.4 87.0h0M783.6 44.4h0M776.3 143.9h0M835.3 95.1h0M844.7 156.3h0M734.8 137.8h0M751.9 112.1h0M780.8 66.9h0M745.4 157.4h0M830.2 89.4h0M823.6 123.3h0M768.0 137.2h0M826.7 80.8h0M836.0 82.9h0M748.1 146.0h0M821.1 66.7h0M787.1 59.3h0M817.7 53.4h0M846.0 147.7h0M766.5 148.5h0M777.8 112.5h0M834.9 43.2h0M721.7 77.6h0M788.6 127.8h0M746.0 48.9h0M721.1 41.1h0M746.8 152.4h0M773.6 72.0h0M743.9 92.7h0M751.4 65.7h0M777.9 90.2h0M843.4 90.6h0M726.2 47.6h0M810.7 103.1h0M795.4 154.0h0M758.1 61.8h0M772.5 153.6h0M833.1 107.6h0M814.4 76.9h0M778.4 65.6h0M796.2 133.4h0M791.2 142.2h0M750.9 134.1h0M809.8 143.1h0M790.0 76.7h0M769.1 125.7h0M757.5 155.9h0M809.0 158.6h0M773.6 101.2h0M818.1 155.5h0M733.5 145.0h0M838.5 84.5h0M766.4 52.9h0M805.6 91.7h0M767.5 64.5h0M826.9 45.2h0M837.3 56.7h0M776.0 72.0h0M728.4 48.8h0M735.1 42.8h0M751.6 77.7h0M790.9 148.1h0M785.1 142.7h0M772.4 140.0h0M750.7 85.8h0M749.3 85.2h0M782.7 157.1h0M815.6 88.6h0M756.5 127.3h0M800.7 155.6h0M836.7 49.3h0M833.2 51.2h0M760.7 76.7h0M750.4 86.2h0M747.5 97.3h0M755.2 102.9h0M844.2 46.9h0M733.6 59.4h0M747.6 154.5h0M823.4 96.7h0M846.4 45.9h0M726.0 61.7h0M821.8 137.3h0M763.6 146.7h0M771.1 111.1h0M818.6 130.4h0M791.6 80.4h0M741.8 89.9h0M841.6 158.2h0M831.2 126.4h0M722.8 98.2h0M844.7 101.0h0M802.1 112.5h0M791.5 118.0h0M783.0 90.0h0M840.3 85.7h0M799.0 153.4h0M757.7 56.2h0M722.2 53.5h0M749.8 98.3h0M723.9 147.6h0M792.3 116.7h0M841.8 75.8h0M773.7 154.5h0M834.8 134.5h0M756.3 147.1h0M723.3 54.2h0M789.4 45.7h0M735.4 156.2h0M764.7 56.5h0M829.6 61.2h0M827.2 85.3h0M753.9 137.8h0M750.0 154.6h0M730.1 47.7h0M738.8 153.0h0M754.4 69.1h0M766.8 43.8h0M796.0 90.0h0M826.8 140.8h0M785.2 112.3h0M839.7 83.4h0M838.8 104.1h0M730.2 61.1h0M816.7 158.1h0M723.5 57.6h0M818.4 140.4h0M739.7 86.0h0M795.8 109.3h0M772.1 109.2h0M839.0 146.7h0M757.4 156.8h0M756.5 79.0h0M776.0 140.7h0M726.9 149.1h0M821.0 98.3h0M775.9 129.6h0M820.9 111.9h0M726.8 94.1h0M759.7 95.5h0M833.3 62.0h0M841.1 87.2h0M811.1 120.8h0M817.6 129.9h0M751.3 117.8h0M766.6 154.6h0M736.3 51.0h0M737.2 44.4h0M734.4 89.4h0M796.2 93.9h0M728.6 55.5h0M724.6 113.1h0M756.7 105.1h0M763.6 143.1h0M779.3 66.9h0M820.5 98.3h0M797.7 149.8h0M730.1 81.3h0M764.6 75.5h0M726.0 83.5h0M814.5 156.8h0M828.6 143.6h0M745.2 47.4h0M795.1 155.8h0M725.2 94.4h0M767.1 133.6h0M821.0 131.0h0M820.5 42.7h0M809.8 141.5h0M760.8 44.9h0M825.5 146.7h0M723.0 106.9h0M758.6 124.8h0M782.4 141.6h0M824.5 63.9h0M796.8 58.4h0M735.0 122.4h0M773.0 146.5h0M836.4 137.2h0M780.4 56.8h0M762.1 41.7h0M785.0 134.8h0M725.3 153.9h0M721.1 156.0h0M759.9 71.5h0M837.5 97.0h0M779.9 150.4h0M843.9 43.9h0M804.1 51.5h0M792.5 88.5h0M816.9 125.7h0M802.6 138.8h0M777.1 77.2h0M729.1 89.9h0M813.7 44.3h0M756.2 158.2h0M766.1 154.5h0M810.5 64.1h0M753.2 135.8h0M808.9 74.3h0M785.2 123.4h0M804.7 138.6h0M772.2 151.0h0M800.3 108.6h0M842.4 110.4h0M786.1 46.5h0M727.9 146.0h0M785.7 86.2h0M741.5 60.0h0M769.8 97.0h0M802.9 57.1h0M748.2 85.0h0M729.6 109.7h0M826.6 147.3h0M799.9 67.3h0M835.4 110.2h0M823.5 61.5h0M728.3 55.9h0M724.4 104.3h0M785.5 143.8h0M801.2 100.1h0M722.7 147.5h0M778.6 44.9h0M796.8 147.8h0M728.3 120.2h0M792.4 40.6h0M752.9 54.5h0M780.1 96.7h0M758.9 123.0h0M826.2 42.9h0M769.6 68.4h0M786.7 84.5h0M811.0 87.4h0M741.0 131.6h0M755.5 87.7h0M819.0 84.9h0M739.0 90.2h0M735.5 105.5h0M722.6 61.3h0M823.5 109.7h0M777.4 146.4h0M735.8 71.5h0M754.2 129.8h0M769.3 44.6h0M762.1 47.3h0M735.5 88.4h0M834.7 80.6h0M795.8 98.1h0M783.5 138.8h0M743.7 57.0h0M749.2 82.6h0M756.8 67.1h0M745.8 112.0h0M766.2 115.2h0M743.4 81.0h0M745.5 138.6h0M755.0 76.3h0M736.6 107.4h0M755.2 121.2h0M770.2 111.7h0M786.9 150.1h0M752.0 141.5h0M744.4 106.2h0M806.7 43.1h0M759.5 88.9h0M740.4 129.6h0M734.9 90.5h0M744.8 124.5h0M808.2 134.2h0M787.0 112.3h0M834.7 89.8h0M840.0 75.0h0M772.9 145.3h0M732.3 93.3h0M811.4 110.1h0M724.1 85.2h0M824.8 92.5h0M762.0 70.1h0M815.0 46.0h0M816.3 74.1h0M781.5 139.0h0M821.6 131.7h0M742.6 57.2h0M830.5 107.2h0M756.7 88.3h0M769.4 140.1h0M816.7 92.3h0M815.1 135.7h0M755.5 63.4h0M785.9 47.4h0M812.3 81.4h0M772.9 145.4h0M749.6 54.9h0M831.7 41.9h0M835.7 108.9h0M727.3 132.8h0M754.4 82.4h0M835.0 50.8h0M763.9 150.5h0M781.7 108.8h0M726.0 158.2h0M800.9 142.7h0M734.8 57.8h0M754.5 132.9h0M727.8 151.0h0M832.4 83.9h0M770.3 114.2h0M792.9 61.2h0M774.7 53.8h0M845.2 65.3h0M828.9 101.6h0M781.8 85.1h0M830.0 91.5h0M739.9 87.1h0M731.4 77.0h0M753.2 153.8h0M778.7 130.0h0M723.5 78.3h0M820.9 113.8h0M841.8 87.4h0M830.6 60.2h0M789.2 101.5h0M777.4 148.8h0M839.6 111.2h0M839.1 75.6h0M763.9 156.4h0M760.5 157.3h0M729.3 75.1h0M800.1 144.1h0M723.3 64.3h0M723.8 62.2h0M786.1 68.6h0M735.4 120.4h0M738.5 155.5h0M828.9 146.5h0M836.7 148.8h0M831.0 72.5h0M721.9 51.4h0M721.2 82.6h0M775.1 124.9h0M770.9 50.8h0M771.8 120.8h0M796.6 43.6h0M773.7 125.8h0M742.7 82.6h0M820.0 140.5h0M756.6 49.4h0M749.9 131.7h0M815.0 57.6h0M762.8 90.4h0M782.4 81.5h0M726.3 86.8h0M789.3 149.2h0M721.1 135.8h0M772.5 64.9h0M821.4 41.4h0M747.1 94.3h0M760.2 129.5h0M724.6 102.0h0M733.4 43.8h0M747.7 52.7h0M736.2 84.9h0M846.2 156.8h0M752.6 69.1h0M770.3 63.3h0M814.4 97.3h0M798.6 91.7h0M748.0 57.0h0M741.0 86.7h0M781.6 44.6h0M773.7 68.1h0M807.4 151.7h0M775.2 48.1h0M792.9 110.6h0M773.1 107.3h0M825.9 68.8h0M766.5 129.0h0M729.2 121.9h0M742.5 74.1h0M822.2 132.0h0M773.0 128.3h0M742.9 112.4h0M791.5 151.0h0M829.1 102.4h0M751.1 61.3h0M840.3 52.9h0M755.1 107.3h0M727.1 151.2h0M807.8 142.2h0M777.8 119.5h0M721.9 138.4h0M828.5 99.1h0M803.7 66.5h0M757.4 87.8h0M816.8 154.5h0M743.7 152.5h0M805.3 57.3h0M820.1 75.3h0M725.1 88.7h0M734.1 146.9h0M744.9 69.3h0M730.2 97.8h0M784.7 67.9h0M810.3 150.5h0M740.7 71.6h0M745.8 90.2h0M775.2 82.2h0M790.5 148.1h0M792.6 55.2h0M783.8 104.1h0M783.5 70.8h0M768.7 79.2h0M794.6 157.7h0M776.6 82.2h0M729.2 57.1h0M751.9 106.3h0M800.8 86.5h0M824.2 157.2h0M765.8 141.0h0M785.9 68.2h0M738.2 98.2h0M805.9 85.8h0M804.4 125.8h0M726.3 84.4h0M801.1 136.0h0M736.8 117.8h0M761.9 153.4h0M789.2 155.8h0M821.2 103.9h0M760.9 72.1h0M754.3 52.9h0M845.4 138.7h0M803.5 57.1h0M839.9 101.9h0M798.9 66.3h0M835.7 45.0h0M772.4 91.2h0M840.0 107.4h0M790.1 91.8h0M804.5 43.4h0M830.2 148.1h0M779.1 94.0h0M786.2 108.2h0M821.8 132.2h0M764.7 65.9h0M838.5 59.6h0M815.4 103.3h0M752.9 70.1h0M738.6 109.8h0M789.2 51.5h0M789.7 54.7h0M840.3 142.0h0M750.6 117.9h0M774.6 56.7h0M799.5 153.8h0M809.5 152.3h0M797.7 132.5h0M735.9 49.1h0M738.4 130.5h0M833.5 61.7h0M777.4 142.7h0M806.5 88.5h0M839.4 132.5h0M727.5 110.5h0M786.3 110.4h0M790.9 134.6h0M818.6 52.8h0M834.2 97.2h0M818.1 66.2h0M767.0 92.3h0M846.1 152.6h0M810.8 77.3h0M773.2 66.4h0M822.2 115.0h0M816.4 88.8h0M723.3 82.2h0M755.8 86.0h0M760.8 81.5h0M829.5 45.2h0M763.3 106.7h0M758.4 118.4h0M814.5 82.9h0M808.2 76.2h0M775.0 136.6h0M734.1 104.9h0M783.6 130.9h0M749.3 118.5h0M789.3 143.6h0M831.2 137.0h0M788.9 73.9h0M824.2 89.3h0M760.7 80.6h0M832.9 56.9h0M829.4 120.9h0M817.4 116.3h0M826.9 45.0h0M785.4 124.7h0M757.6 148.7h0M735.8 91.2h0M741.2 117.6h0M821.2 60.1h0M831.7 94.7h0M830.2 106.7h0M813.6 77.6h0M772.0 86.5h0M837.0 70.4h0M815.6 122.2h0M838.4 141.2h0M792.8 43.4h0M841.1 144.0h0M804.3 80.5h0M725.0 111.8h0M838.0 64.7h0M738.3 74.8h0M831.5 141.5h0M839.7 120.0h0M794.5 107.5h0M787.4 96.6h0M830.5 56.2h0M824.3 96.8h0M819.4 145.1h0M745.5 47.6h0M825.1 42.4h0M793.1 57.7h0M771.5 119.2h0M829.3 129.9h0M770.7 142.8h0M801.2 136.0h0M798.5 42.9h0M829.8 99.9h0M788.1 130.2h0M840.9 94.4h0M786.4 107.2h0M767.4 53.9h0M826.0 64.0h0M733.7 45.0h0M814.7 97.1h0M809.2 110.2h0M806.7 136.6h0M721.0 73.2h0M753.8 86.6h0M728.6 147.5h0M760.6 115.0h0M731.5 111.3h0M802.9 45.0h0M732.5 91.4h0M815.6 57.9h0M784.1 42.6h0M787.7 153.0h0M741.4 101.4h0M775.4 51.0h0M735.8 115.1h0M768.1 110.4h0M753.1 80.8h0M743.2 128.1h0M835.7 148.0h0M759.2 54.8h0M843.1 154.9h0M770.9 128.0h0M802.4 153.1h0M806.7 47.6h0M775.5 42.5h0M826.1 129.8h0M735.1 94.9h0M820.3 82.1h0M788.6 45.0h0M788.0 43.8h0M838.3 145.4h0M778.1 157.1h0M746.9 158.4h0M802.8 92.5h0M839.7 143.8h0M814.7 72.2h0M730.9 142.8h0M787.0 109.9h0M767.0 116.1h0M753.3 132.0h0M798.3 136.7h0M773.3 116.0h0M759.2 44.6h0M755.7 88.7h0M746.0 95.7h0M775.4 46.6h0M722.8 94.7h0M796.9 52.2h0M746.2 78.6h0M780.4 51.7h0M835.0 67.2h0M817.2 121.4h0M825.6 111.9h0M778.0 103.6h0M745.0 144.1h0M731.8 105.4h0M777.0 137.8h0M776.9 105.4h0M807.9 72.3h0M846.1 137.3h0M744.5 119.9h0M749.4 64.1h0M837.4 141.8h0M748.8 68.8h0M842.9 111.2h0M778.7 112.9h0M745.9 107.5h0M842.1 77.5h0M757.4 115.4h0M807.4 124.5h0M797.8 99.5h0M827.6 141.6h0M738.1 57.5h0M745.2 153.3h0M755.8 143.1h0M751.8 66.4h0M760.0 45.2h0M819.9 115.5h0M750.5 88.8h0M800.3 148.6h0M801.5 106.0h0M734.9 112.6h0M827.2 141.8h0M758.2 51.5h0M746.5 150.5h0M807.4 153.4h0M804.2 70.0h0M791.3 121.4h0M788.6 150.9h0M751.7 86.9h0M831.1 84.0h0M774.2 127.4h0M754.4 130.7h0M797.3 145.2h0M805.0 69.9h0M839.7 100.1h0M724.9 83.8h0M831.4 55.3h0M726.8 104.8h0M807.0 122.5h0M733.6 123.7h0M837.7 79.2h0M839.6 62.8h0M763.0 84.9h0M820.4 110.9h0M743.8 145.4h0M723.5 139.4h0M788.2 130.8h0M783.8 148.0h0M844.1 54.3h0M822.8 110.6h0M726.2 76.5h0M735.5 53.5h0M749.3 48.4h0M756.8 88.5h0M776.6 119.7h0M786.6 148.4h0M730.8 94.3h0M843.7 70.5h0M732.4 103.0h0M794.4 102.0h0M744.5 145.7h0M802.4 114.2h0M739.1 133.2h0M812.3 144.6h0M760.8 54.0h0M822.9 120.1h0M749.3 118.6h0M758.8 61.6h0M833.8 110.6h0M806.6 60.5h0M724.5 135.3h0M795.0 151.1h0M759.1 152.3h0M744.0 89.3h0M815.8 122.2h0M743.5 105.2h0M802.7 55.4h0M816.6 145.9h0M762.0 60.1h0M724.9 110.1h0M749.4 133.4h0M767.9 124.7h0M781.6 112.3h0M757.8 59.2h0M745.5 96.9h0M750.2 140.5h0M842.4 127.4h0M805.1 47.6h0M792.5 52.0h0M740.1 88.3h0M830.6 109.5h0M728.0 99.0h0M806.2 113.9h0M837.6 157.0h0M838.7 51.3h0M843.2 140.1h0M838.9 41.5h0M814.5 75.4h0M834.6 55.2h0M785.2 105.1h0M780.3 156.5h0M744.3 98.1h0M828.5 125.4h0M727.0 139.4h0M742.0 141.9h0M834.8 87.9h0M764.7 59.9h0M824.8 142.7h0M809.8 151.6h0M766.9 52.1h0M817.1 105.7h0M764.8 132.0h0M786.2 104.5h0M811.0 61.2h0M810.7 48.0h0M735.6 75.9h0M800.6 92.9h0M805.4 57.9h0M819.8 116.0h0M791.1 78.8h0M761.0 157.4h0M733.0 158.3h0M763.4 72.3h0M817.9 87.1h0M735.0 88.6h0M761.1 83.5h0M765.9 102.8h0M724.4 45.9h0M839.7 152.0h0M771.9 77.7h0M760.0 49.2h0M766.2 138.5h0M839.9 68.9h0M780.6 60.6h0M794.7 90.2h0M776.9 120.5h0M820.1 47.9h0M825.5 151.4h0M815.9 127.2h0M747.4 151.2h0M796.9 110.6h0M748.4 116.9h0M755.9 148.7h0M833.8 118.4h0M812.1 146.7h0M803.1 61.1h0M812.3 66.2h0M825.4 74.6h0M841.9 139.7h0M816.0 148.9h0M749.5 145.6h0M827.9 140.1h0M820.8 135.4h0M821.5 96.5h0M841.5 85.5h0M816.8 132.2h0M744.1 60.5h0M834.2 118.8h0M756.9 130.1h0M783.0 122.5h0M778.8 147.1h0M826.1 53.3h0M818.8 105.2h0M727.7 80.7h0M824.2 92.9h0M742.0 99.4h0M734.0 53.5h0M753.3 41.1h0M778.0 135.9h0M816.2 125.4h0M825.8 158.8h0M762.1 108.2h0M803.3 65.4h0M805.7 88.7h0M745.3 79.4h0M843.3 88.9h0M801.8 126.1h0M756.4 59.7h0M838.6 41.8h0M769.2 148.8h0M785.3 123.0h0M786.6 111.2h0M738.3 133.6h0M754.1 125.6h0M843.3 50.3h0M821.3 46.2h0M737.5 114.6h0M822.7 117.3h0M745.4 139.9h0M750.1 94.4h0M841.2 87.7h0M750.5 75.0h0M749.3 146.2h0M759.3 45.0h0M724.8 129.7h0M795.4 100.4h0M746.9 126.5h0M833.3 158.7h0M752.9 123.5h0M767.9 99.9h0M754.7 54.1h0M821.8 69.6h0M721.3 65.5h0M755.0 53.3h0M795.9 71.1h0M771.3 109.5h0M836.7 60.6h0M763.0 83.5h0M787.8 111.1h0M726.4 125.8h0M734.4 151.3h0M778.7 84.7h0M773.3 100.7h0M782.8 103.0h0M758.3 105.1h0M813.6 97.4h0M817.6 132.0h0M772.1 110.0h0M817.5 80.9h0M817.5 143.9h0M773.5 47.3h0M754.8 117.3h0M831.8 119.7h0M807.5 112.1h0M771.3 132.4h0M825.2 153.9h0M829.4 112.7h0M796.4 84.6h0M806.6 122.7h0M843.0 89.6h0M768.2 101.6h0M785.1 51.1h0M808.3 89.4h0M800.8 127.9h0M730.7 152.0h0M833.1 147.5h0M755.9 120.3h0M814.1 49.0h0M736.0 149.8h0M825.7 151.6h0M798.1 96.7h0M795.6 152.4h0M763.6 58.6h0M831.9 43.0h0M809.1 79.2h0M825.1 140.3h0M736.4 92.5h0M791.1 45.8h0M825.8 96.3h0M767.8 84.5h0M740.4 144.5h0M840.6 140.8h0M734.6 141.3h0M733.5 81.9h0M816.4 117.3h0M738.9 52.1h0M792.9 147.3h0M789.2 78.6h0M752.3 118.9h0M790.7 110.7h0M785.5 107.7h0M812.8 81.0h0M770.3 103.8h0M778.8 119.8h0M771.8 101.9h0M782.9 158.1h0M742.2 87.7h0M820.5 133.8h0M722.2 105.1h0M808.8 43.2h0M823.0 71.3h0M829.8 153.9h0" stroke="#b83a2a" stroke-opacity="0.38" stroke-width="1.5" stroke-linecap="round" fill="none"/>
<path d="M787.0 115.0h0M798.1 124.4h0M749.0 140.8h0M773.2 141.9h0M811.8 88.6h0M830.0 96.3h0M772.6 44.4h0M740.2 50.1h0M795.7 129.9h0M720.9 158.6h0M795.1 53.2h0M781.8 86.7h0M756.5 152.8h0M845.4 137.0h0M836.2 119.0h0M737.6 45.9h0M736.7 113.9h0M822.8 126.3h0M749.1 92.0h0M725.6 70.7h0M799.3 56.3h0M733.0 80.4h0M810.5 42.9h0M780.0 78.5h0M732.6 54.0h0M804.7 82.4h0M775.1 129.0h0M749.0 77.9h0M756.7 155.4h0M824.4 96.6h0M737.2 123.5h0M799.0 146.1h0M810.5 97.8h0M728.0 76.0h0M752.5 116.4h0M818.2 150.4h0M725.8 89.5h0M796.6 132.0h0M814.9 62.4h0M738.3 143.5h0M772.1 110.4h0M724.5 140.0h0M764.4 123.5h0M730.5 125.9h0M757.3 63.3h0M769.5 157.3h0M795.5 41.4h0M728.1 135.4h0M781.8 86.9h0M836.1 153.8h0M843.1 45.9h0M765.2 146.0h0M816.5 68.6h0M830.7 150.3h0M840.8 132.1h0M726.9 48.1h0M833.8 88.9h0M764.7 127.7h0M795.7 79.8h0M770.6 87.9h0M842.0 57.2h0M778.3 94.5h0M830.2 119.7h0M820.5 93.4h0M757.9 70.4h0M842.5 57.4h0M823.6 46.5h0M751.0 69.5h0M841.7 124.2h0M785.6 156.6h0M734.4 130.2h0M793.0 103.3h0M755.5 87.3h0M735.4 45.3h0M804.6 145.7h0M740.0 95.5h0M800.7 129.7h0M747.8 85.3h0M775.9 155.8h0M741.4 138.5h0M819.0 71.6h0M796.8 87.9h0M731.4 82.0h0M731.5 118.1h0M820.4 49.7h0M771.1 144.4h0M796.2 146.7h0M726.2 110.7h0M841.5 64.8h0M817.3 75.8h0M818.3 90.1h0M786.0 124.1h0M786.1 146.3h0M777.2 60.9h0M769.7 114.8h0M768.6 113.6h0M722.4 46.9h0M825.7 95.9h0M744.9 109.9h0M724.3 50.3h0M776.5 77.6h0M757.4 50.1h0M780.2 77.1h0M811.9 149.3h0M817.7 53.9h0M782.1 58.3h0M761.5 115.6h0M727.3 54.7h0M846.6 80.7h0M842.2 42.4h0M752.3 58.8h0M814.3 65.0h0M735.3 148.2h0M815.8 93.6h0M807.6 154.5h0M811.0 144.0h0M742.8 126.8h0M721.8 146.8h0M843.5 121.2h0M803.0 67.2h0M832.7 117.6h0M846.3 155.4h0M743.6 91.3h0M721.5 129.0h0M727.7 96.2h0M731.5 112.1h0M748.0 55.6h0M766.8 56.5h0M805.9 67.0h0M825.4 48.2h0M739.8 90.7h0M839.3 153.5h0M733.6 103.4h0M812.2 102.1h0M770.9 152.6h0M726.5 115.4h0M724.0 150.7h0M837.4 140.7h0M775.4 75.3h0M783.9 101.1h0M771.5 82.9h0M823.4 62.0h0M756.6 71.7h0M774.8 92.1h0M799.1 90.0h0M841.2 112.3h0M752.5 158.5h0M795.8 145.3h0M752.6 77.9h0M775.9 113.0h0M759.1 149.5h0M746.1 102.3h0M807.6 151.1h0M822.1 90.0h0M819.3 116.1h0M752.2 41.8h0M833.3 90.6h0M789.6 73.0h0M844.0 145.8h0M736.3 104.0h0M735.1 84.8h0M772.3 144.7h0M843.9 70.7h0M739.1 70.3h0M772.7 42.7h0M770.7 80.7h0M784.3 114.1h0M765.0 86.2h0M726.4 108.4h0M742.3 66.6h0M780.9 116.9h0M781.0 103.5h0M797.4 64.7h0M742.0 123.2h0M794.3 87.4h0M810.9 56.8h0M772.4 41.9h0M766.6 121.2h0M783.5 132.6h0M725.8 109.4h0M791.7 92.7h0M800.0 68.5h0M796.2 135.1h0M724.9 47.8h0M755.5 100.1h0M833.1 114.2h0M827.4 84.4h0M810.5 154.5h0M820.7 58.7h0M768.4 67.1h0M827.6 124.0h0M740.6 110.8h0M812.6 128.7h0M828.7 139.7h0M830.4 107.6h0M805.5 113.5h0M743.4 73.8h0M821.1 81.1h0M757.0 81.0h0M824.3 83.8h0M725.9 111.9h0M805.9 129.2h0M799.3 49.5h0M734.7 98.7h0M845.4 144.1h0M792.7 66.3h0M816.2 118.2h0M722.2 44.7h0M812.8 147.8h0M816.6 75.4h0M737.6 60.0h0M777.2 152.8h0M766.3 114.7h0M734.1 56.6h0M778.5 89.3h0M759.1 120.0h0M747.2 68.3h0M768.1 122.3h0M767.5 57.8h0M845.4 108.1h0M764.9 82.7h0M721.0 110.8h0M728.1 133.8h0M804.3 78.8h0M812.6 75.7h0M781.0 119.4h0M743.0 93.9h0M792.0 131.1h0M844.7 77.5h0M809.5 51.9h0M778.5 93.4h0M765.3 101.9h0M758.3 59.4h0M798.3 88.9h0M828.6 150.5h0M830.1 69.5h0M766.9 71.2h0M762.4 68.0h0M750.7 48.2h0M845.7 125.3h0M752.2 136.6h0M777.5 107.7h0M804.0 136.4h0M733.3 132.9h0M770.0 44.5h0M775.5 126.1h0M764.1 122.6h0M732.1 126.3h0M801.2 42.9h0M744.7 50.9h0M828.1 109.3h0M808.8 52.1h0M740.2 147.0h0M723.1 61.5h0M797.7 100.3h0M788.8 116.1h0M821.5 85.0h0M792.4 56.2h0M833.4 144.2h0M728.7 72.5h0M733.1 103.2h0M734.9 109.0h0M768.1 52.8h0M721.7 63.2h0M795.3 54.1h0M766.4 82.5h0M785.2 156.0h0M834.7 113.2h0M844.5 52.2h0M801.0 136.4h0M722.9 152.8h0M806.5 152.7h0M750.6 59.8h0M806.0 59.5h0M793.6 78.3h0M740.3 63.8h0M831.9 59.0h0M732.8 87.8h0M748.4 102.9h0M813.5 151.0h0M805.4 77.1h0M753.8 92.2h0M757.3 106.4h0M776.4 143.7h0M818.6 113.2h0M841.0 146.6h0M755.3 142.6h0M834.5 132.1h0M835.6 46.5h0M838.8 118.3h0M744.3 129.0h0M832.6 110.3h0M840.2 121.2h0M794.6 139.9h0M842.6 138.5h0M789.8 122.3h0M751.9 62.9h0M734.7 84.7h0M818.9 119.1h0M821.9 74.4h0M760.5 144.4h0M736.0 146.7h0M824.2 79.1h0M824.2 152.3h0M793.6 132.2h0M738.1 153.2h0M726.0 116.2h0M815.7 126.6h0M751.4 112.6h0M746.6 71.9h0M815.5 138.0h0M747.7 135.4h0M793.3 96.1h0M768.0 115.4h0M794.8 56.4h0M837.3 142.5h0M802.4 108.6h0M827.5 110.8h0M807.8 88.0h0M739.4 151.1h0M839.6 126.1h0M812.4 51.2h0M817.8 136.6h0M761.3 80.2h0M727.2 99.8h0M837.2 138.3h0M781.3 150.8h0M794.7 59.9h0M770.5 138.4h0M798.1 61.2h0M747.0 121.1h0M787.3 68.0h0M747.5 55.4h0M829.7 133.9h0M822.5 126.3h0M729.5 49.6h0M810.3 115.4h0M825.0 132.0h0M774.4 114.2h0M840.5 45.9h0M798.9 103.2h0M783.6 118.3h0M772.0 57.2h0M813.6 152.2h0M781.4 142.9h0M826.8 106.6h0M830.0 81.1h0M767.7 98.6h0M778.8 57.7h0M733.3 112.5h0M747.4 102.7h0M763.8 89.4h0M765.9 149.4h0M725.5 54.8h0M722.4 58.2h0M797.7 88.8h0M837.1 62.8h0M765.8 151.9h0M782.9 84.2h0M792.7 153.6h0M825.0 90.6h0M826.0 155.9h0M763.8 80.9h0M834.1 88.8h0M730.1 77.8h0M811.4 65.3h0M791.7 52.8h0M775.8 119.0h0M730.3 109.0h0M750.3 92.4h0M806.4 42.1h0M776.7 105.3h0M844.5 103.1h0M831.6 145.1h0M830.2 101.9h0M739.3 73.7h0M732.2 48.9h0M776.1 125.1h0M809.6 131.9h0M745.9 56.8h0M724.8 100.0h0M757.7 128.8h0M815.9 79.3h0M753.6 100.3h0M829.0 145.8h0M813.3 124.8h0M804.8 43.7h0M808.8 42.2h0M723.2 68.2h0M758.3 131.3h0M809.0 66.6h0M843.4 43.2h0M787.1 138.2h0M735.1 116.2h0M755.4 105.7h0M724.0 128.5h0M794.3 91.7h0M740.8 55.7h0M768.5 85.6h0M764.6 69.7h0M778.8 77.3h0M805.5 86.1h0M723.5 57.9h0M721.7 88.5h0M779.4 76.7h0M791.2 127.2h0M778.9 109.9h0M835.6 41.0h0M753.4 52.9h0M790.5 138.2h0M796.5 131.6h0M771.3 152.0h0M807.1 140.8h0M739.1 65.6h0M809.6 66.4h0M811.0 105.8h0M843.4 96.5h0M786.8 81.2h0M832.3 63.4h0M733.5 153.1h0" stroke="#8a2014" stroke-opacity="0.5" stroke-width="1.5" stroke-linecap="round" fill="none"/>
<path d="M841.9 78.8h0M741.5 87.6h0M749.8 94.8h0M802.0 92.7h0M791.8 84.3h0M808.9 88.5h0M755.8 91.0h0M784.7 118.6h0M846.5 83.2h0M790.4 61.2h0M818.2 132.5h0M782.5 69.0h0M736.7 88.6h0M751.0 142.5h0M774.7 149.6h0M826.2 104.3h0M732.6 126.7h0M765.8 159.0h0M800.7 120.3h0M777.5 48.3h0M736.0 91.2h0M747.2 40.7h0M826.5 92.7h0M807.3 157.4h0M811.5 87.1h0M763.0 75.8h0M767.8 50.7h0M732.8 78.8h0M763.6 135.8h0M740.4 141.5h0M748.2 42.4h0M793.2 72.6h0M748.7 110.7h0M749.6 61.1h0M818.4 135.6h0M830.4 71.7h0M769.8 95.1h0M756.5 74.4h0M783.7 54.5h0M785.7 87.1h0" stroke="#6a140c" stroke-opacity="0.7" stroke-width="2.1" stroke-linecap="round" fill="none"/>
</g>
<rect x="719.8" y="39.6" width="127.8" height="120.4" fill="url(#h2)"/>
<rect x="719.8" y="39.6" width="127.8" height="120.4" fill="url(#v2)"/>
<rect x="720.3" y="40.1" width="126.8" height="119.4" fill="none" stroke="#8e2c26" stroke-width="1"/>
<line x1="479.4" y1="209.5" x2="627.4" y2="209.5" stroke="#222" stroke-width="1.3"/>
<text x="472.6" y="213.8" font-family="Liberation Serif" font-size="12" font-weight="normal" text-anchor="end" fill="#2a2a2a" transform="translate(472.6 0) scale(0.92 1) translate(-472.6 0)">500</text>
<line x1="479.4" y1="238.6" x2="627.4" y2="238.6" stroke="#222" stroke-width="1.3"/>
<text x="472.6" y="242.9" font-family="Liberation Serif" font-size="12" font-weight="normal" text-anchor="end" fill="#2a2a2a" transform="translate(472.6 0) scale(0.92 1) translate(-472.6 0)">400</text>
<line x1="479.4" y1="266.8" x2="627.4" y2="266.8" stroke="#222" stroke-width="1.3"/>
<text x="472.6" y="271.1" font-family="Liberation Serif" font-size="12" font-weight="normal" text-anchor="end" fill="#2a2a2a" transform="translate(472.6 0) scale(0.92 1) translate(-472.6 0)">300</text>
<line x1="479.4" y1="296.1" x2="627.4" y2="296.1" stroke="#222" stroke-width="1.3"/>
<text x="472.6" y="300.40000000000003" font-family="Liberation Serif" font-size="12" font-weight="normal" text-anchor="end" fill="#2a2a2a" transform="translate(472.6 0) scale(0.92 1) translate(-472.6 0)">200</text>
<line x1="479.4" y1="325.4" x2="627.4" y2="325.4" stroke="#222" stroke-width="1.3"/>
<text x="472.6" y="329.7" font-family="Liberation Serif" font-size="12" font-weight="normal" text-anchor="end" fill="#2a2a2a" transform="translate(472.6 0) scale(0.92 1) translate(-472.6 0)">100</text>
<line x1="479.4" y1="354.0" x2="627.4" y2="354.0" stroke="#222" stroke-width="1.3"/>
<text x="472.6" y="358.3" font-family="Liberation Serif" font-size="12" font-weight="normal" text-anchor="end" fill="#2a2a2a" transform="translate(472.6 0) scale(0.92 1) translate(-472.6 0)">0</text>
<line x1="482.0" y1="208.9" x2="482.0" y2="358.4" stroke="#6a6a6a" stroke-width="1.3"/>
<line x1="482.0" y1="354.0" x2="482.0" y2="358.4" stroke="#444" stroke-width="1.2"/>
<line x1="530.3" y1="354.0" x2="530.3" y2="358.4" stroke="#444" stroke-width="1.2"/>
<line x1="578.8" y1="354.0" x2="578.8" y2="358.4" stroke="#444" stroke-width="1.2"/>
<line x1="627.7" y1="354.0" x2="627.7" y2="358.4" stroke="#444" stroke-width="1.2"/>
<rect x="496.2" y="287.2" width="20.5" height="66.8" fill="#000"/>
<rect x="545.0" y="230.6" width="20.1" height="123.4" fill="#000"/>
<rect x="594.0" y="237.1" width="18.9" height="116.9" fill="#000"/>
<line x1="504.3" y1="285.9" x2="508.7" y2="285.9" stroke="#222" stroke-width="1.2"/>
<line x1="506.5" y1="285.9" x2="506.5" y2="287.9" stroke="#222" stroke-width="1.0"/>
<line x1="552.9" y1="228.6" x2="557.3000000000001" y2="228.6" stroke="#222" stroke-width="1.2"/>
<line x1="555.1" y1="228.6" x2="555.1" y2="230.6" stroke="#222" stroke-width="1.0"/>
<line x1="601.3" y1="235.6" x2="605.7" y2="235.6" stroke="#222" stroke-width="1.2"/>
<line x1="603.5" y1="235.6" x2="603.5" y2="237.6" stroke="#222" stroke-width="1.0"/>
<path d="M509.1 210V202.7H603.4V219.3" fill="none" stroke="#333" stroke-width="1.3"/>
<path d="M509.1 271.3V210.3H557.6V226.6" fill="none" stroke="#111" stroke-width="1.7"/>
<text x="552.0" y="199.2" font-family="Liberation Sans" font-size="12.5" fill="#000" stroke="#000" stroke-width="0.4" transform="translate(552.0 0) scale(0.655 1) translate(-552.0 0)">P&lt;0.005</text>
<ellipse cx="545.2" cy="192.8" rx="1.4" ry="1.9" fill="#000"/><ellipse cx="549.8" cy="192.8" rx="1.4" ry="1.9" fill="#000"/>
<text x="446.6" y="281.0" font-family="Liberation Sans" font-size="11" font-weight="bold" text-anchor="middle" fill="#000" transform="rotate(-90 446.6 281.0)">Colony formation number</text>
<text x="509.0" y="370.3" font-family="Liberation Sans" font-size="11" font-weight="bold" text-anchor="end" fill="#000" transform="rotate(-45 509.0 370.3)">Negative control</text>
<text x="557.0" y="368.3" font-family="Liberation Sans" font-size="11" font-weight="bold" text-anchor="end" fill="#000" transform="rotate(-45 557.0 368.3)">miR-96 mimics</text>
<text x="604.0" y="369.3" font-family="Liberation Sans" font-size="11" font-weight="bold" text-anchor="end" fill="#000" transform="rotate(-45 604.0 369.3)">miR-19a mimics</text>
<line x1="691.1" y1="195.4" x2="863.6" y2="195.4" stroke="#222" stroke-width="1.3"/>
<text x="685.6" y="199.70000000000002" font-family="Liberation Serif" font-size="12" font-weight="normal" text-anchor="end" fill="#2a2a2a" transform="translate(685.6 0) scale(0.92 1) translate(-685.6 0)">2.5</text>
<line x1="691.1" y1="227.8" x2="863.6" y2="227.8" stroke="#222" stroke-width="1.3"/>
<text x="685.6" y="232.10000000000002" font-family="Liberation Serif" font-size="12" font-weight="normal" text-anchor="end" fill="#2a2a2a" transform="translate(685.6 0) scale(0.92 1) translate(-685.6 0)">2</text>
<line x1="691.1" y1="258.9" x2="863.6" y2="258.9" stroke="#222" stroke-width="1.3"/>
<text x="685.6" y="263.2" font-family="Liberation Serif" font-size="12" font-weight="normal" text-anchor="end" fill="#2a2a2a" transform="translate(685.6 0) scale(0.92 1) translate(-685.6 0)">1.5</text>
<line x1="691.1" y1="290.7" x2="863.6" y2="290.7" stroke="#222" stroke-width="1.3"/>
<text x="685.6" y="295.0" font-family="Liberation Serif" font-size="12" font-weight="normal" text-anchor="end" fill="#2a2a2a" transform="translate(685.6 0) scale(0.92 1) translate(-685.6 0)">1</text>
<line x1="691.1" y1="322.8" x2="863.6" y2="322.8" stroke="#222" stroke-width="1.3"/>
<text x="685.6" y="327.1" font-family="Liberation Serif" font-size="12" font-weight="normal" text-anchor="end" fill="#2a2a2a" transform="translate(685.6 0) scale(0.92 1) translate(-685.6 0)">0.5</text>
<line x1="691.1" y1="354.0" x2="863.6" y2="354.0" stroke="#222" stroke-width="1.3"/>
<text x="685.6" y="358.3" font-family="Liberation Serif" font-size="12" font-weight="normal" text-anchor="end" fill="#2a2a2a" transform="translate(685.6 0) scale(0.92 1) translate(-685.6 0)">0</text>
<line x1="693.7" y1="194.8" x2="693.7" y2="358.4" stroke="#6a6a6a" stroke-width="1.3"/>
<line x1="693.7" y1="354.0" x2="693.7" y2="358.4" stroke="#444" stroke-width="1.2"/>
<line x1="750.9" y1="354.0" x2="750.9" y2="358.4" stroke="#444" stroke-width="1.2"/>
<line x1="807.3" y1="354.0" x2="807.3" y2="358.4" stroke="#444" stroke-width="1.2"/>
<line x1="862.6" y1="354.0" x2="862.6" y2="358.4" stroke="#444" stroke-width="1.2"/>
<rect x="711.1" y="290.6" width="22.3" height="63.4" fill="#000"/>
<rect x="768.2" y="238.1" width="21.6" height="115.9" fill="#000"/>
<rect x="824.0" y="245.0" width="22.6" height="109.0" fill="#000"/>
<rect x="718.9" y="193.9" width="60.6" height="2.8" fill="#8c8c8c"/>
<line x1="718.9" y1="193.4" x2="779.5" y2="193.4" stroke="#333" stroke-width="1.0"/>
<path d="M718.9 196V188.7H836.0V245" fill="none" stroke="#2a2a2a" stroke-width="1.3"/>
<line x1="718.9" y1="196" x2="718.9" y2="268.7" stroke="#7a7a7a" stroke-width="1.5"/>
<path d="M779.2 193.8V238.1" fill="none" stroke="#2a2a2a" stroke-width="1.2"/>
<line x1="776.4" y1="206.3" x2="781.6" y2="206.3" stroke="#111" stroke-width="1.6"/>
<line x1="833.0" y1="212.9" x2="838.2" y2="212.9" stroke="#111" stroke-width="1.6"/>
<text x="771.4" y="184.3" font-family="Liberation Sans" font-size="12" fill="#000" stroke="#000" stroke-width="0.4" transform="translate(771.4 0) scale(0.675 1) translate(-771.4 0)">P&lt;0.005</text>
<ellipse cx="764.4" cy="178.4" rx="1.4" ry="1.9" fill="#000"/><ellipse cx="769.0" cy="178.4" rx="1.4" ry="1.9" fill="#000"/>
<text x="648.3" y="278.0" font-family="Liberation Sans" font-size="11" font-weight="bold" text-anchor="middle" fill="#000" transform="rotate(-90 648.3 278.0)">Fold increase of</text>
<text x="659.6" y="277.4" font-family="Liberation Sans" font-size="11" font-weight="bold" text-anchor="middle" fill="#000" transform="rotate(-90 659.6 277.4)">colony formation</text>
<text x="724.3" y="370.2" font-family="Liberation Sans" font-size="11" font-weight="bold" text-anchor="end" fill="#000" transform="rotate(-45 724.3 370.2)">Negative control</text>
<text x="780.8" y="369.2" font-family="Liberation Sans" font-size="11" font-weight="bold" text-anchor="end" fill="#000" transform="rotate(-45 780.8 369.2)">miR-96 mimics</text>
<text x="837.3" y="369.2" font-family="Liberation Sans" font-size="11" font-weight="bold" text-anchor="end" fill="#000" transform="rotate(-45 837.3 369.2)">miR-19a mimics</text>
</svg>
</body></html>
